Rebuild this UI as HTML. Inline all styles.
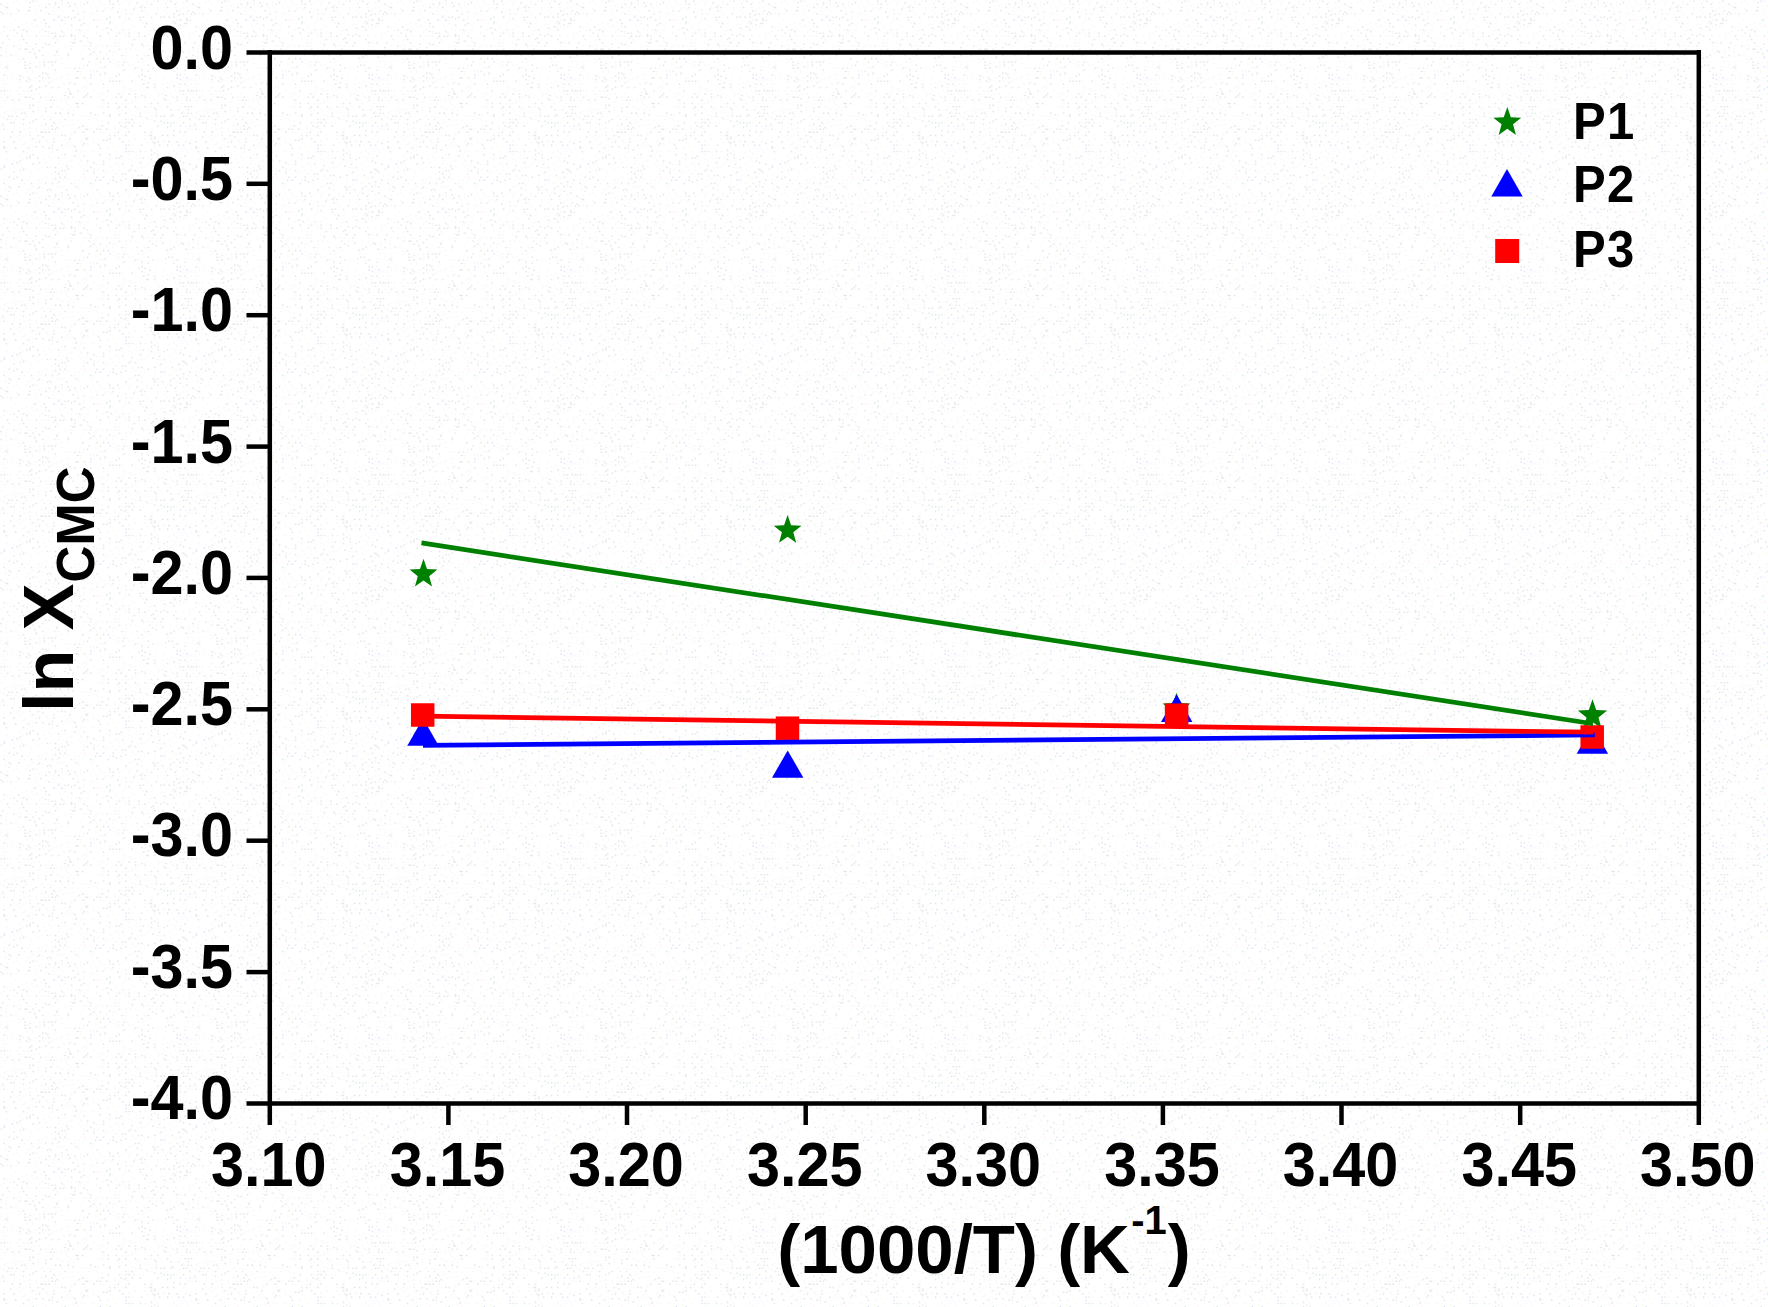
<!DOCTYPE html>
<html><head><meta charset="utf-8"><title>ln XCMC vs 1000/T</title>
<style>html,body{margin:0;padding:0;background:#fefefe;}body{width:1768px;height:1307px;overflow:hidden;}svg{display:block;}text{font-family:"Liberation Sans",sans-serif;font-weight:bold;fill:#000;}</style></head><body>
<svg width="1768" height="1307" viewBox="0 0 1768 1307">
<defs><pattern id="grain" width="192.0" height="192.0" patternUnits="userSpaceOnUse"><rect width="192.0" height="192.0" fill="#ffffff"/><path fill="#fef4fe" d="M6.8 2.0h1.5v1.5h-1.5zM13.2 2.0h1.5v1.5h-1.5zM16.4 0.4h1.5v1.5h-1.5zM35.6 0.4h1.5v1.5h-1.5zM58.0 2.0h1.5v1.5h-1.5zM80.4 2.0h1.5v1.5h-1.5zM85.2 0.4h1.5v1.5h-1.5zM182.8 2.0h1.5v1.5h-1.5zM18.0 3.6h1.5v1.5h-1.5zM53.2 5.2h1.5v1.5h-1.5zM66.0 3.6h1.5v1.5h-1.5zM118.8 3.6h1.5v1.5h-1.5zM128.4 3.6h1.5v1.5h-1.5zM50.0 6.8h1.5v1.5h-1.5zM53.2 6.8h1.5v1.5h-1.5zM75.6 6.8h1.5v1.5h-1.5zM104.4 8.4h1.5v1.5h-1.5zM106.0 6.8h1.5v1.5h-1.5zM110.8 8.4h1.5v1.5h-1.5zM125.2 8.4h1.5v1.5h-1.5zM35.6 10.0h1.5v1.5h-1.5zM51.6 10.0h1.5v1.5h-1.5zM62.8 10.0h1.5v1.5h-1.5zM120.4 11.6h1.5v1.5h-1.5zM123.6 10.0h1.5v1.5h-1.5zM125.2 10.0h1.5v1.5h-1.5zM26.0 13.2h1.5v1.5h-1.5zM35.6 13.2h1.5v1.5h-1.5zM120.4 14.8h1.5v1.5h-1.5zM131.6 13.2h1.5v1.5h-1.5zM144.4 13.2h1.5v1.5h-1.5zM179.6 13.2h1.5v1.5h-1.5zM38.8 16.4h1.5v1.5h-1.5zM62.8 16.4h1.5v1.5h-1.5zM82.0 18.0h1.5v1.5h-1.5zM3.6 21.2h1.5v1.5h-1.5zM14.8 19.6h1.5v1.5h-1.5zM54.8 19.6h1.5v1.5h-1.5zM80.4 19.6h1.5v1.5h-1.5zM96.4 19.6h1.5v1.5h-1.5zM99.6 19.6h1.5v1.5h-1.5zM125.2 19.6h1.5v1.5h-1.5zM141.2 21.2h1.5v1.5h-1.5zM176.4 19.6h1.5v1.5h-1.5zM26.0 22.8h1.5v1.5h-1.5zM30.8 22.8h1.5v1.5h-1.5zM35.6 24.4h1.5v1.5h-1.5zM64.4 22.8h1.5v1.5h-1.5zM122.0 22.8h1.5v1.5h-1.5zM142.8 22.8h1.5v1.5h-1.5zM171.6 22.8h1.5v1.5h-1.5zM32.4 26.0h1.5v1.5h-1.5zM43.6 26.0h1.5v1.5h-1.5zM114.0 26.0h1.5v1.5h-1.5zM131.6 27.6h1.5v1.5h-1.5zM168.4 26.0h1.5v1.5h-1.5zM173.2 26.0h1.5v1.5h-1.5zM3.6 30.8h1.5v1.5h-1.5zM70.8 29.2h1.5v1.5h-1.5zM162.0 30.8h1.5v1.5h-1.5zM0.4 32.4h1.5v1.5h-1.5zM115.6 32.4h1.5v1.5h-1.5zM176.4 34.0h1.5v1.5h-1.5zM13.2 35.6h1.5v1.5h-1.5zM29.2 35.6h1.5v1.5h-1.5zM40.4 35.6h1.5v1.5h-1.5zM48.4 35.6h1.5v1.5h-1.5zM125.2 35.6h1.5v1.5h-1.5zM174.8 35.6h1.5v1.5h-1.5zM182.8 35.6h1.5v1.5h-1.5zM58.0 40.4h1.5v1.5h-1.5zM99.6 38.8h1.5v1.5h-1.5zM157.2 38.8h1.5v1.5h-1.5zM19.6 43.6h1.5v1.5h-1.5zM69.2 42.0h1.5v1.5h-1.5zM115.6 42.0h1.5v1.5h-1.5zM123.6 42.0h1.5v1.5h-1.5zM174.8 42.0h1.5v1.5h-1.5zM26.0 45.2h1.5v1.5h-1.5zM64.4 46.8h1.5v1.5h-1.5zM67.6 45.2h1.5v1.5h-1.5zM70.8 45.2h1.5v1.5h-1.5zM94.8 46.8h1.5v1.5h-1.5zM96.4 45.2h1.5v1.5h-1.5zM101.2 45.2h1.5v1.5h-1.5zM149.2 45.2h1.5v1.5h-1.5zM152.4 45.2h1.5v1.5h-1.5zM176.4 45.2h1.5v1.5h-1.5zM18.0 48.4h1.5v1.5h-1.5zM115.6 50.0h1.5v1.5h-1.5zM155.6 48.4h1.5v1.5h-1.5zM112.4 51.6h1.5v1.5h-1.5zM125.2 51.6h1.5v1.5h-1.5zM147.6 51.6h1.5v1.5h-1.5zM162.0 51.6h1.5v1.5h-1.5zM179.6 51.6h1.5v1.5h-1.5zM187.6 53.2h1.5v1.5h-1.5zM5.2 56.4h1.5v1.5h-1.5zM96.4 54.8h1.5v1.5h-1.5zM106.0 54.8h1.5v1.5h-1.5zM112.4 54.8h1.5v1.5h-1.5zM166.8 56.4h1.5v1.5h-1.5zM189.2 56.4h1.5v1.5h-1.5zM19.6 59.6h1.5v1.5h-1.5zM61.2 58.0h1.5v1.5h-1.5zM122.0 58.0h1.5v1.5h-1.5zM147.6 58.0h1.5v1.5h-1.5zM181.2 58.0h1.5v1.5h-1.5zM46.8 61.2h1.5v1.5h-1.5zM117.2 61.2h1.5v1.5h-1.5zM118.8 61.2h1.5v1.5h-1.5zM126.8 61.2h1.5v1.5h-1.5zM142.8 61.2h1.5v1.5h-1.5zM178.0 61.2h1.5v1.5h-1.5zM187.6 61.2h1.5v1.5h-1.5zM32.4 64.4h1.5v1.5h-1.5zM83.6 64.4h1.5v1.5h-1.5zM118.8 64.4h1.5v1.5h-1.5zM128.4 64.4h1.5v1.5h-1.5zM131.6 64.4h1.5v1.5h-1.5zM26.0 67.6h1.5v1.5h-1.5zM32.4 67.6h1.5v1.5h-1.5zM38.8 67.6h1.5v1.5h-1.5zM66.0 67.6h1.5v1.5h-1.5zM82.0 67.6h1.5v1.5h-1.5zM90.0 69.2h1.5v1.5h-1.5zM157.2 67.6h1.5v1.5h-1.5zM26.0 70.8h1.5v1.5h-1.5zM67.6 72.4h1.5v1.5h-1.5zM90.0 70.8h1.5v1.5h-1.5zM122.0 70.8h1.5v1.5h-1.5zM67.6 74.0h1.5v1.5h-1.5zM93.2 74.0h1.5v1.5h-1.5zM112.4 74.0h1.5v1.5h-1.5zM35.6 77.2h1.5v1.5h-1.5zM45.2 77.2h1.5v1.5h-1.5zM56.4 77.2h1.5v1.5h-1.5zM109.2 77.2h1.5v1.5h-1.5zM163.6 77.2h1.5v1.5h-1.5zM189.2 78.8h1.5v1.5h-1.5zM29.2 80.4h1.5v1.5h-1.5zM42.0 80.4h1.5v1.5h-1.5zM51.6 80.4h1.5v1.5h-1.5zM86.8 82.0h1.5v1.5h-1.5zM122.0 80.4h1.5v1.5h-1.5zM144.4 80.4h1.5v1.5h-1.5zM173.2 82.0h1.5v1.5h-1.5zM182.8 80.4h1.5v1.5h-1.5zM186.0 80.4h1.5v1.5h-1.5zM3.6 83.6h1.5v1.5h-1.5zM112.4 83.6h1.5v1.5h-1.5zM118.8 83.6h1.5v1.5h-1.5zM123.6 85.2h1.5v1.5h-1.5zM134.8 83.6h1.5v1.5h-1.5zM144.4 83.6h1.5v1.5h-1.5zM19.6 86.8h1.5v1.5h-1.5zM102.8 86.8h1.5v1.5h-1.5zM122.0 86.8h1.5v1.5h-1.5zM125.2 86.8h1.5v1.5h-1.5zM128.4 88.4h1.5v1.5h-1.5zM178.0 86.8h1.5v1.5h-1.5zM6.8 90.0h1.5v1.5h-1.5zM16.4 90.0h1.5v1.5h-1.5zM22.8 90.0h1.5v1.5h-1.5zM27.6 90.0h1.5v1.5h-1.5zM74.0 91.6h1.5v1.5h-1.5zM83.6 90.0h1.5v1.5h-1.5zM155.6 90.0h1.5v1.5h-1.5zM174.8 90.0h1.5v1.5h-1.5zM0.4 93.2h1.5v1.5h-1.5zM18.0 93.2h1.5v1.5h-1.5zM22.8 93.2h1.5v1.5h-1.5zM99.6 93.2h1.5v1.5h-1.5zM117.2 93.2h1.5v1.5h-1.5zM144.4 94.8h1.5v1.5h-1.5zM158.8 93.2h1.5v1.5h-1.5zM162.0 93.2h1.5v1.5h-1.5zM170.0 93.2h1.5v1.5h-1.5zM179.6 93.2h1.5v1.5h-1.5zM45.2 96.4h1.5v1.5h-1.5zM64.4 98.0h1.5v1.5h-1.5zM106.0 96.4h1.5v1.5h-1.5zM38.8 101.2h1.5v1.5h-1.5zM56.4 99.6h1.5v1.5h-1.5zM61.2 99.6h1.5v1.5h-1.5zM131.6 101.2h1.5v1.5h-1.5zM134.8 99.6h1.5v1.5h-1.5zM3.6 102.8h1.5v1.5h-1.5zM19.6 102.8h1.5v1.5h-1.5zM102.8 102.8h1.5v1.5h-1.5zM122.0 102.8h1.5v1.5h-1.5zM125.2 102.8h1.5v1.5h-1.5zM181.2 102.8h1.5v1.5h-1.5zM13.2 107.6h1.5v1.5h-1.5zM51.6 106.0h1.5v1.5h-1.5zM58.0 106.0h1.5v1.5h-1.5zM98.0 106.0h1.5v1.5h-1.5zM101.2 106.0h1.5v1.5h-1.5zM147.6 106.0h1.5v1.5h-1.5zM179.6 106.0h1.5v1.5h-1.5zM10.0 110.8h1.5v1.5h-1.5zM16.4 109.2h1.5v1.5h-1.5zM72.4 109.2h1.5v1.5h-1.5zM122.0 109.2h1.5v1.5h-1.5zM136.4 109.2h1.5v1.5h-1.5zM3.6 112.4h1.5v1.5h-1.5zM14.8 112.4h1.5v1.5h-1.5zM155.6 112.4h1.5v1.5h-1.5zM157.2 114.0h1.5v1.5h-1.5zM173.2 114.0h1.5v1.5h-1.5zM182.8 112.4h1.5v1.5h-1.5zM3.6 117.2h1.5v1.5h-1.5zM42.0 115.6h1.5v1.5h-1.5zM61.2 115.6h1.5v1.5h-1.5zM93.2 117.2h1.5v1.5h-1.5zM150.8 115.6h1.5v1.5h-1.5zM173.2 115.6h1.5v1.5h-1.5zM179.6 117.2h1.5v1.5h-1.5zM10.0 118.8h1.5v1.5h-1.5zM88.4 118.8h1.5v1.5h-1.5zM96.4 118.8h1.5v1.5h-1.5zM101.2 120.4h1.5v1.5h-1.5zM128.4 118.8h1.5v1.5h-1.5zM150.8 118.8h1.5v1.5h-1.5zM166.8 118.8h1.5v1.5h-1.5zM32.4 122.0h1.5v1.5h-1.5zM142.8 122.0h1.5v1.5h-1.5zM146.0 122.0h1.5v1.5h-1.5zM0.4 125.2h1.5v1.5h-1.5zM40.4 125.2h1.5v1.5h-1.5zM45.2 125.2h1.5v1.5h-1.5zM66.0 125.2h1.5v1.5h-1.5zM70.8 125.2h1.5v1.5h-1.5zM98.0 125.2h1.5v1.5h-1.5zM115.6 126.8h1.5v1.5h-1.5zM184.4 125.2h1.5v1.5h-1.5zM186.0 125.2h1.5v1.5h-1.5zM6.8 128.4h1.5v1.5h-1.5zM19.6 130.0h1.5v1.5h-1.5zM27.6 128.4h1.5v1.5h-1.5zM43.6 128.4h1.5v1.5h-1.5zM90.0 128.4h1.5v1.5h-1.5zM126.8 128.4h1.5v1.5h-1.5zM187.6 128.4h1.5v1.5h-1.5zM54.8 131.6h1.5v1.5h-1.5zM70.8 131.6h1.5v1.5h-1.5zM83.6 131.6h1.5v1.5h-1.5zM13.2 134.8h1.5v1.5h-1.5zM38.8 134.8h1.5v1.5h-1.5zM56.4 134.8h1.5v1.5h-1.5zM83.6 134.8h1.5v1.5h-1.5zM144.4 134.8h1.5v1.5h-1.5zM182.8 134.8h1.5v1.5h-1.5zM80.4 139.6h1.5v1.5h-1.5zM134.8 138.0h1.5v1.5h-1.5zM157.2 138.0h1.5v1.5h-1.5zM80.4 141.2h1.5v1.5h-1.5zM138.0 142.8h1.5v1.5h-1.5zM21.2 144.4h1.5v1.5h-1.5zM48.4 146.0h1.5v1.5h-1.5zM67.6 144.4h1.5v1.5h-1.5zM72.4 144.4h1.5v1.5h-1.5zM131.6 144.4h1.5v1.5h-1.5zM107.6 147.6h1.5v1.5h-1.5zM179.6 147.6h1.5v1.5h-1.5zM184.4 147.6h1.5v1.5h-1.5zM190.8 147.6h1.5v1.5h-1.5zM26.0 152.4h1.5v1.5h-1.5zM72.4 150.8h1.5v1.5h-1.5zM157.2 150.8h1.5v1.5h-1.5zM173.2 150.8h1.5v1.5h-1.5zM45.2 154.0h1.5v1.5h-1.5zM77.2 154.0h1.5v1.5h-1.5zM176.4 154.0h1.5v1.5h-1.5zM5.2 158.8h1.5v1.5h-1.5zM43.6 158.8h1.5v1.5h-1.5zM48.4 157.2h1.5v1.5h-1.5zM64.4 157.2h1.5v1.5h-1.5zM80.4 158.8h1.5v1.5h-1.5zM109.2 158.8h1.5v1.5h-1.5zM136.4 157.2h1.5v1.5h-1.5zM147.6 157.2h1.5v1.5h-1.5zM179.6 157.2h1.5v1.5h-1.5zM13.2 160.4h1.5v1.5h-1.5zM45.2 162.0h1.5v1.5h-1.5zM67.6 160.4h1.5v1.5h-1.5zM78.8 162.0h1.5v1.5h-1.5zM122.0 160.4h1.5v1.5h-1.5zM154.0 160.4h1.5v1.5h-1.5zM170.0 162.0h1.5v1.5h-1.5zM173.2 160.4h1.5v1.5h-1.5zM16.4 165.2h1.5v1.5h-1.5zM62.8 163.6h1.5v1.5h-1.5zM168.4 163.6h1.5v1.5h-1.5zM13.2 166.8h1.5v1.5h-1.5zM61.2 166.8h1.5v1.5h-1.5zM66.0 166.8h1.5v1.5h-1.5zM83.6 168.4h1.5v1.5h-1.5zM98.0 168.4h1.5v1.5h-1.5zM141.2 166.8h1.5v1.5h-1.5zM144.4 166.8h1.5v1.5h-1.5zM22.8 170.0h1.5v1.5h-1.5zM83.6 170.0h1.5v1.5h-1.5zM109.2 171.6h1.5v1.5h-1.5zM118.8 170.0h1.5v1.5h-1.5zM82.0 173.2h1.5v1.5h-1.5zM93.2 173.2h1.5v1.5h-1.5zM104.4 173.2h1.5v1.5h-1.5zM182.8 173.2h1.5v1.5h-1.5zM45.2 176.4h1.5v1.5h-1.5zM74.0 176.4h1.5v1.5h-1.5zM80.4 176.4h1.5v1.5h-1.5zM83.6 176.4h1.5v1.5h-1.5zM186.0 178.0h1.5v1.5h-1.5zM27.6 179.6h1.5v1.5h-1.5zM45.2 181.2h1.5v1.5h-1.5zM98.0 179.6h1.5v1.5h-1.5zM109.2 179.6h1.5v1.5h-1.5zM173.2 179.6h1.5v1.5h-1.5zM40.4 182.8h1.5v1.5h-1.5zM74.0 182.8h1.5v1.5h-1.5zM77.2 182.8h1.5v1.5h-1.5zM163.6 182.8h1.5v1.5h-1.5zM182.8 184.4h1.5v1.5h-1.5zM187.6 182.8h1.5v1.5h-1.5zM48.4 187.6h1.5v1.5h-1.5zM56.4 186.0h1.5v1.5h-1.5zM77.2 187.6h1.5v1.5h-1.5zM93.2 187.6h1.5v1.5h-1.5zM160.4 187.6h1.5v1.5h-1.5zM107.6 190.8h1.5v1.5h-1.5zM141.2 189.2h1.5v1.5h-1.5zM176.4 189.2h1.5v1.5h-1.5zM186.0 189.2h1.5v1.5h-1.5z"/><path fill="#f4fcfc" d="M26.0 0.4h1.5v1.5h-1.5zM98.0 0.4h1.5v1.5h-1.5zM130.0 0.4h1.5v1.5h-1.5zM154.0 0.4h1.5v1.5h-1.5zM163.6 0.4h1.5v1.5h-1.5zM165.2 3.6h1.5v1.5h-1.5zM67.6 6.8h1.5v1.5h-1.5zM90.0 6.8h1.5v1.5h-1.5zM122.0 8.4h1.5v1.5h-1.5zM176.4 6.8h1.5v1.5h-1.5zM77.2 10.0h1.5v1.5h-1.5zM157.2 10.0h1.5v1.5h-1.5zM190.8 10.0h1.5v1.5h-1.5zM56.4 14.8h1.5v1.5h-1.5zM70.8 13.2h1.5v1.5h-1.5zM147.6 13.2h1.5v1.5h-1.5zM166.8 13.2h1.5v1.5h-1.5zM10.0 16.4h1.5v1.5h-1.5zM54.8 18.0h1.5v1.5h-1.5zM189.2 16.4h1.5v1.5h-1.5zM0.4 19.6h1.5v1.5h-1.5zM40.4 21.2h1.5v1.5h-1.5zM112.4 19.6h1.5v1.5h-1.5zM118.8 19.6h1.5v1.5h-1.5zM152.4 19.6h1.5v1.5h-1.5zM21.2 24.4h1.5v1.5h-1.5zM32.4 22.8h1.5v1.5h-1.5zM42.0 22.8h1.5v1.5h-1.5zM90.0 22.8h1.5v1.5h-1.5zM131.6 24.4h1.5v1.5h-1.5zM45.2 26.0h1.5v1.5h-1.5zM115.6 26.0h1.5v1.5h-1.5zM179.6 27.6h1.5v1.5h-1.5zM29.2 29.2h1.5v1.5h-1.5zM38.8 30.8h1.5v1.5h-1.5zM80.4 30.8h1.5v1.5h-1.5zM115.6 29.2h1.5v1.5h-1.5zM149.2 30.8h1.5v1.5h-1.5zM150.8 29.2h1.5v1.5h-1.5zM21.2 32.4h1.5v1.5h-1.5zM48.4 32.4h1.5v1.5h-1.5zM125.2 32.4h1.5v1.5h-1.5zM42.0 35.6h1.5v1.5h-1.5zM77.2 35.6h1.5v1.5h-1.5zM189.2 35.6h1.5v1.5h-1.5zM78.8 40.4h1.5v1.5h-1.5zM93.2 38.8h1.5v1.5h-1.5zM112.4 38.8h1.5v1.5h-1.5zM118.8 43.6h1.5v1.5h-1.5zM16.4 45.2h1.5v1.5h-1.5zM35.6 46.8h1.5v1.5h-1.5zM46.8 45.2h1.5v1.5h-1.5zM51.6 45.2h1.5v1.5h-1.5zM86.8 45.2h1.5v1.5h-1.5zM80.4 53.2h1.5v1.5h-1.5zM176.4 51.6h1.5v1.5h-1.5zM131.6 56.4h1.5v1.5h-1.5zM67.6 58.0h1.5v1.5h-1.5zM114.0 58.0h1.5v1.5h-1.5zM8.4 61.2h1.5v1.5h-1.5zM27.6 64.4h1.5v1.5h-1.5zM0.4 67.6h1.5v1.5h-1.5zM3.6 67.6h1.5v1.5h-1.5zM70.8 67.6h1.5v1.5h-1.5zM98.0 67.6h1.5v1.5h-1.5zM138.0 67.6h1.5v1.5h-1.5zM160.4 67.6h1.5v1.5h-1.5zM3.6 70.8h1.5v1.5h-1.5zM64.4 70.8h1.5v1.5h-1.5zM75.6 70.8h1.5v1.5h-1.5zM11.6 74.0h1.5v1.5h-1.5zM22.8 75.6h1.5v1.5h-1.5zM155.6 74.0h1.5v1.5h-1.5zM10.0 77.2h1.5v1.5h-1.5zM16.4 78.8h1.5v1.5h-1.5zM53.2 78.8h1.5v1.5h-1.5zM61.2 77.2h1.5v1.5h-1.5zM154.0 80.4h1.5v1.5h-1.5zM176.4 82.0h1.5v1.5h-1.5zM6.8 83.6h1.5v1.5h-1.5zM54.8 85.2h1.5v1.5h-1.5zM58.0 90.0h1.5v1.5h-1.5zM163.6 90.0h1.5v1.5h-1.5zM34.0 93.2h1.5v1.5h-1.5zM61.2 93.2h1.5v1.5h-1.5zM106.0 94.8h1.5v1.5h-1.5zM190.8 93.2h1.5v1.5h-1.5zM86.8 96.4h1.5v1.5h-1.5zM96.4 96.4h1.5v1.5h-1.5zM157.2 96.4h1.5v1.5h-1.5zM171.6 96.4h1.5v1.5h-1.5zM181.2 96.4h1.5v1.5h-1.5zM174.8 101.2h1.5v1.5h-1.5zM22.8 102.8h1.5v1.5h-1.5zM85.2 104.4h1.5v1.5h-1.5zM168.4 102.8h1.5v1.5h-1.5zM170.0 102.8h1.5v1.5h-1.5zM56.4 106.0h1.5v1.5h-1.5zM160.4 107.6h1.5v1.5h-1.5zM32.4 112.4h1.5v1.5h-1.5zM147.6 112.4h1.5v1.5h-1.5zM50.0 115.6h1.5v1.5h-1.5zM67.6 115.6h1.5v1.5h-1.5zM83.6 115.6h1.5v1.5h-1.5zM86.8 115.6h1.5v1.5h-1.5zM106.0 115.6h1.5v1.5h-1.5zM123.6 115.6h1.5v1.5h-1.5zM14.8 118.8h1.5v1.5h-1.5zM72.4 118.8h1.5v1.5h-1.5zM163.6 118.8h1.5v1.5h-1.5zM19.6 122.0h1.5v1.5h-1.5zM40.4 123.6h1.5v1.5h-1.5zM54.8 123.6h1.5v1.5h-1.5zM58.0 122.0h1.5v1.5h-1.5zM80.4 122.0h1.5v1.5h-1.5zM138.0 122.0h1.5v1.5h-1.5zM160.4 123.6h1.5v1.5h-1.5zM13.2 125.2h1.5v1.5h-1.5zM48.4 126.8h1.5v1.5h-1.5zM102.8 125.2h1.5v1.5h-1.5zM13.2 128.4h1.5v1.5h-1.5zM150.8 128.4h1.5v1.5h-1.5zM190.8 128.4h1.5v1.5h-1.5zM99.6 131.6h1.5v1.5h-1.5zM59.6 134.8h1.5v1.5h-1.5zM80.4 134.8h1.5v1.5h-1.5zM122.0 134.8h1.5v1.5h-1.5zM64.4 139.6h1.5v1.5h-1.5zM128.4 139.6h1.5v1.5h-1.5zM163.6 139.6h1.5v1.5h-1.5zM67.6 141.2h1.5v1.5h-1.5zM186.0 141.2h1.5v1.5h-1.5zM22.8 144.4h1.5v1.5h-1.5zM32.4 146.0h1.5v1.5h-1.5zM123.6 144.4h1.5v1.5h-1.5zM171.6 144.4h1.5v1.5h-1.5zM32.4 149.2h1.5v1.5h-1.5zM138.0 147.6h1.5v1.5h-1.5zM176.4 147.6h1.5v1.5h-1.5zM186.0 149.2h1.5v1.5h-1.5zM50.0 152.4h1.5v1.5h-1.5zM51.6 150.8h1.5v1.5h-1.5zM80.4 150.8h1.5v1.5h-1.5zM93.2 150.8h1.5v1.5h-1.5zM115.6 150.8h1.5v1.5h-1.5zM122.0 150.8h1.5v1.5h-1.5zM35.6 155.6h1.5v1.5h-1.5zM136.4 154.0h1.5v1.5h-1.5zM179.6 154.0h1.5v1.5h-1.5zM22.8 158.8h1.5v1.5h-1.5zM51.6 157.2h1.5v1.5h-1.5zM61.2 157.2h1.5v1.5h-1.5zM107.6 157.2h1.5v1.5h-1.5zM133.2 157.2h1.5v1.5h-1.5zM115.6 162.0h1.5v1.5h-1.5zM19.6 163.6h1.5v1.5h-1.5zM96.4 163.6h1.5v1.5h-1.5zM130.0 163.6h1.5v1.5h-1.5zM147.6 163.6h1.5v1.5h-1.5zM42.0 166.8h1.5v1.5h-1.5zM50.0 166.8h1.5v1.5h-1.5zM123.6 166.8h1.5v1.5h-1.5zM138.0 166.8h1.5v1.5h-1.5zM160.4 166.8h1.5v1.5h-1.5zM16.4 170.0h1.5v1.5h-1.5zM96.4 170.0h1.5v1.5h-1.5zM19.6 173.2h1.5v1.5h-1.5zM190.8 174.8h1.5v1.5h-1.5zM67.6 178.0h1.5v1.5h-1.5zM37.2 179.6h1.5v1.5h-1.5zM62.8 179.6h1.5v1.5h-1.5zM86.8 179.6h1.5v1.5h-1.5zM139.6 179.6h1.5v1.5h-1.5zM56.4 182.8h1.5v1.5h-1.5zM93.2 182.8h1.5v1.5h-1.5zM120.4 182.8h1.5v1.5h-1.5zM154.0 184.4h1.5v1.5h-1.5zM58.0 186.0h1.5v1.5h-1.5zM82.0 186.0h1.5v1.5h-1.5zM90.0 186.0h1.5v1.5h-1.5zM182.8 186.0h1.5v1.5h-1.5zM29.2 189.2h1.5v1.5h-1.5z"/><path fill="#e4ebe4" d="M29.2 2.0h1.5v1.5h-1.5zM157.2 0.4h1.5v1.5h-1.5zM0.4 3.6h1.5v1.5h-1.5zM54.8 3.6h1.5v1.5h-1.5zM109.2 3.6h1.5v1.5h-1.5zM150.8 3.6h1.5v1.5h-1.5zM0.4 11.6h1.5v1.5h-1.5zM18.0 10.0h1.5v1.5h-1.5zM27.6 10.0h1.5v1.5h-1.5zM29.2 10.0h1.5v1.5h-1.5zM77.2 13.2h1.5v1.5h-1.5zM186.0 18.0h1.5v1.5h-1.5zM139.6 19.6h1.5v1.5h-1.5zM186.0 22.8h1.5v1.5h-1.5zM3.6 26.0h1.5v1.5h-1.5zM48.4 26.0h1.5v1.5h-1.5zM107.6 32.4h1.5v1.5h-1.5zM118.8 32.4h1.5v1.5h-1.5zM6.8 35.6h1.5v1.5h-1.5zM59.6 35.6h1.5v1.5h-1.5zM62.8 35.6h1.5v1.5h-1.5zM160.4 35.6h1.5v1.5h-1.5zM166.8 35.6h1.5v1.5h-1.5zM150.8 38.8h1.5v1.5h-1.5zM2.0 42.0h1.5v1.5h-1.5zM74.0 42.0h1.5v1.5h-1.5zM162.0 42.0h1.5v1.5h-1.5zM13.2 45.2h1.5v1.5h-1.5zM160.4 45.2h1.5v1.5h-1.5zM24.4 48.4h1.5v1.5h-1.5zM88.4 48.4h1.5v1.5h-1.5zM109.2 50.0h1.5v1.5h-1.5zM181.2 50.0h1.5v1.5h-1.5zM122.0 54.8h1.5v1.5h-1.5zM186.0 56.4h1.5v1.5h-1.5zM166.8 58.0h1.5v1.5h-1.5zM99.6 61.2h1.5v1.5h-1.5zM5.2 66.0h1.5v1.5h-1.5zM51.6 64.4h1.5v1.5h-1.5zM122.0 64.4h1.5v1.5h-1.5zM165.2 66.0h1.5v1.5h-1.5zM168.4 64.4h1.5v1.5h-1.5zM171.6 64.4h1.5v1.5h-1.5zM24.4 67.6h1.5v1.5h-1.5zM141.2 69.2h1.5v1.5h-1.5zM45.2 72.4h1.5v1.5h-1.5zM3.6 74.0h1.5v1.5h-1.5zM46.8 74.0h1.5v1.5h-1.5zM115.6 75.6h1.5v1.5h-1.5zM144.4 75.6h1.5v1.5h-1.5zM179.6 74.0h1.5v1.5h-1.5zM77.2 77.2h1.5v1.5h-1.5zM83.6 77.2h1.5v1.5h-1.5zM141.2 78.8h1.5v1.5h-1.5zM26.0 80.4h1.5v1.5h-1.5zM69.2 82.0h1.5v1.5h-1.5zM115.6 80.4h1.5v1.5h-1.5zM142.8 83.6h1.5v1.5h-1.5zM154.0 83.6h1.5v1.5h-1.5zM147.6 86.8h1.5v1.5h-1.5zM0.4 90.0h1.5v1.5h-1.5zM107.6 90.0h1.5v1.5h-1.5zM70.8 93.2h1.5v1.5h-1.5zM86.8 93.2h1.5v1.5h-1.5zM134.8 93.2h1.5v1.5h-1.5zM141.2 94.8h1.5v1.5h-1.5zM51.6 96.4h1.5v1.5h-1.5zM115.6 96.4h1.5v1.5h-1.5zM11.6 99.6h1.5v1.5h-1.5zM18.0 99.6h1.5v1.5h-1.5zM53.2 99.6h1.5v1.5h-1.5zM102.8 99.6h1.5v1.5h-1.5zM150.8 102.8h1.5v1.5h-1.5zM125.2 106.0h1.5v1.5h-1.5zM144.4 106.0h1.5v1.5h-1.5zM178.0 109.2h1.5v1.5h-1.5zM24.4 112.4h1.5v1.5h-1.5zM72.4 114.0h1.5v1.5h-1.5zM139.6 112.4h1.5v1.5h-1.5zM171.6 114.0h1.5v1.5h-1.5zM181.2 112.4h1.5v1.5h-1.5zM146.0 117.2h1.5v1.5h-1.5zM155.6 115.6h1.5v1.5h-1.5zM160.4 120.4h1.5v1.5h-1.5zM189.2 118.8h1.5v1.5h-1.5zM29.2 122.0h1.5v1.5h-1.5zM45.2 123.6h1.5v1.5h-1.5zM78.8 126.8h1.5v1.5h-1.5zM125.2 125.2h1.5v1.5h-1.5zM54.8 128.4h1.5v1.5h-1.5zM173.2 130.0h1.5v1.5h-1.5zM42.0 131.6h1.5v1.5h-1.5zM74.0 131.6h1.5v1.5h-1.5zM150.8 131.6h1.5v1.5h-1.5zM179.6 131.6h1.5v1.5h-1.5zM86.8 138.0h1.5v1.5h-1.5zM118.8 138.0h1.5v1.5h-1.5zM157.2 141.2h1.5v1.5h-1.5zM168.4 141.2h1.5v1.5h-1.5zM128.4 144.4h1.5v1.5h-1.5zM141.2 144.4h1.5v1.5h-1.5zM27.6 147.6h1.5v1.5h-1.5zM48.4 147.6h1.5v1.5h-1.5zM75.6 149.2h1.5v1.5h-1.5zM99.6 147.6h1.5v1.5h-1.5zM83.6 155.6h1.5v1.5h-1.5zM157.2 154.0h1.5v1.5h-1.5zM58.0 157.2h1.5v1.5h-1.5zM38.8 162.0h1.5v1.5h-1.5zM139.6 162.0h1.5v1.5h-1.5zM122.0 163.6h1.5v1.5h-1.5zM54.8 171.6h1.5v1.5h-1.5zM61.2 170.0h1.5v1.5h-1.5zM134.8 170.0h1.5v1.5h-1.5zM186.0 171.6h1.5v1.5h-1.5zM171.6 174.8h1.5v1.5h-1.5zM59.6 176.4h1.5v1.5h-1.5zM64.4 176.4h1.5v1.5h-1.5zM112.4 176.4h1.5v1.5h-1.5zM125.2 178.0h1.5v1.5h-1.5zM179.6 176.4h1.5v1.5h-1.5zM112.4 179.6h1.5v1.5h-1.5zM136.4 187.6h1.5v1.5h-1.5zM152.4 186.0h1.5v1.5h-1.5zM170.0 187.6h1.5v1.5h-1.5zM173.2 186.0h1.5v1.5h-1.5zM179.6 186.0h1.5v1.5h-1.5z"/><path fill="#dee5f2" d="M32.4 0.4h1.5v1.5h-1.5zM67.6 2.0h1.5v1.5h-1.5zM109.2 0.4h1.5v1.5h-1.5zM117.2 0.4h1.5v1.5h-1.5zM141.2 5.2h1.5v1.5h-1.5zM174.8 3.6h1.5v1.5h-1.5zM29.2 6.8h1.5v1.5h-1.5zM58.0 6.8h1.5v1.5h-1.5zM133.2 8.4h1.5v1.5h-1.5zM40.4 10.0h1.5v1.5h-1.5zM176.4 10.0h1.5v1.5h-1.5zM48.4 13.2h1.5v1.5h-1.5zM190.8 13.2h1.5v1.5h-1.5zM67.6 16.4h1.5v1.5h-1.5zM74.0 16.4h1.5v1.5h-1.5zM106.0 18.0h1.5v1.5h-1.5zM118.8 16.4h1.5v1.5h-1.5zM128.4 18.0h1.5v1.5h-1.5zM142.8 16.4h1.5v1.5h-1.5zM163.6 16.4h1.5v1.5h-1.5zM34.0 19.6h1.5v1.5h-1.5zM43.6 19.6h1.5v1.5h-1.5zM53.2 19.6h1.5v1.5h-1.5zM61.2 19.6h1.5v1.5h-1.5zM109.2 21.2h1.5v1.5h-1.5zM179.6 19.6h1.5v1.5h-1.5zM186.0 19.6h1.5v1.5h-1.5zM45.2 22.8h1.5v1.5h-1.5zM80.4 24.4h1.5v1.5h-1.5zM146.0 22.8h1.5v1.5h-1.5zM18.0 26.0h1.5v1.5h-1.5zM154.0 29.2h1.5v1.5h-1.5zM138.0 32.4h1.5v1.5h-1.5zM21.2 35.6h1.5v1.5h-1.5zM54.8 35.6h1.5v1.5h-1.5zM70.8 35.6h1.5v1.5h-1.5zM22.8 38.8h1.5v1.5h-1.5zM133.2 38.8h1.5v1.5h-1.5zM45.2 43.6h1.5v1.5h-1.5zM48.4 43.6h1.5v1.5h-1.5zM154.0 42.0h1.5v1.5h-1.5zM176.4 42.0h1.5v1.5h-1.5zM0.4 46.8h1.5v1.5h-1.5zM38.8 50.0h1.5v1.5h-1.5zM29.2 51.6h1.5v1.5h-1.5zM56.4 51.6h1.5v1.5h-1.5zM93.2 51.6h1.5v1.5h-1.5zM182.8 51.6h1.5v1.5h-1.5zM0.4 54.8h1.5v1.5h-1.5zM170.0 56.4h1.5v1.5h-1.5zM82.0 58.0h1.5v1.5h-1.5zM24.4 61.2h1.5v1.5h-1.5zM51.6 61.2h1.5v1.5h-1.5zM109.2 61.2h1.5v1.5h-1.5zM123.6 61.2h1.5v1.5h-1.5zM24.4 64.4h1.5v1.5h-1.5zM35.6 66.0h1.5v1.5h-1.5zM43.6 64.4h1.5v1.5h-1.5zM74.0 67.6h1.5v1.5h-1.5zM42.0 72.4h1.5v1.5h-1.5zM77.2 70.8h1.5v1.5h-1.5zM90.0 74.0h1.5v1.5h-1.5zM118.8 74.0h1.5v1.5h-1.5zM141.2 74.0h1.5v1.5h-1.5zM48.4 77.2h1.5v1.5h-1.5zM75.6 77.2h1.5v1.5h-1.5zM30.8 85.2h1.5v1.5h-1.5zM102.8 83.6h1.5v1.5h-1.5zM173.2 85.2h1.5v1.5h-1.5zM38.8 86.8h1.5v1.5h-1.5zM3.6 90.0h1.5v1.5h-1.5zM187.6 90.0h1.5v1.5h-1.5zM69.2 93.2h1.5v1.5h-1.5zM128.4 93.2h1.5v1.5h-1.5zM165.2 94.8h1.5v1.5h-1.5zM26.0 96.4h1.5v1.5h-1.5zM40.4 96.4h1.5v1.5h-1.5zM83.6 96.4h1.5v1.5h-1.5zM120.4 96.4h1.5v1.5h-1.5zM75.6 102.8h1.5v1.5h-1.5zM77.2 102.8h1.5v1.5h-1.5zM82.0 102.8h1.5v1.5h-1.5zM77.2 106.0h1.5v1.5h-1.5zM118.8 106.0h1.5v1.5h-1.5zM134.8 106.0h1.5v1.5h-1.5zM166.8 106.0h1.5v1.5h-1.5zM155.6 109.2h1.5v1.5h-1.5zM170.0 109.2h1.5v1.5h-1.5zM54.8 112.4h1.5v1.5h-1.5zM59.6 112.4h1.5v1.5h-1.5zM67.6 112.4h1.5v1.5h-1.5zM94.8 114.0h1.5v1.5h-1.5zM109.2 114.0h1.5v1.5h-1.5zM16.4 115.6h1.5v1.5h-1.5zM160.4 115.6h1.5v1.5h-1.5zM163.6 115.6h1.5v1.5h-1.5zM32.4 120.4h1.5v1.5h-1.5zM131.6 118.8h1.5v1.5h-1.5zM10.0 122.0h1.5v1.5h-1.5zM53.2 122.0h1.5v1.5h-1.5zM189.2 125.2h1.5v1.5h-1.5zM19.6 131.6h1.5v1.5h-1.5zM45.2 131.6h1.5v1.5h-1.5zM48.4 131.6h1.5v1.5h-1.5zM184.4 131.6h1.5v1.5h-1.5zM125.2 134.8h1.5v1.5h-1.5zM149.2 134.8h1.5v1.5h-1.5zM162.0 134.8h1.5v1.5h-1.5zM69.2 138.0h1.5v1.5h-1.5zM152.4 141.2h1.5v1.5h-1.5zM154.0 142.8h1.5v1.5h-1.5zM176.4 141.2h1.5v1.5h-1.5zM74.0 146.0h1.5v1.5h-1.5zM125.2 144.4h1.5v1.5h-1.5zM158.8 144.4h1.5v1.5h-1.5zM166.8 144.4h1.5v1.5h-1.5zM14.8 147.6h1.5v1.5h-1.5zM125.2 150.8h1.5v1.5h-1.5zM99.6 154.0h1.5v1.5h-1.5zM184.4 155.6h1.5v1.5h-1.5zM26.0 157.2h1.5v1.5h-1.5zM142.8 157.2h1.5v1.5h-1.5zM11.6 163.6h1.5v1.5h-1.5zM102.8 163.6h1.5v1.5h-1.5zM46.8 166.8h1.5v1.5h-1.5zM54.8 166.8h1.5v1.5h-1.5zM90.0 166.8h1.5v1.5h-1.5zM128.4 170.0h1.5v1.5h-1.5zM178.0 171.6h1.5v1.5h-1.5zM184.4 170.0h1.5v1.5h-1.5zM58.0 173.2h1.5v1.5h-1.5zM122.0 173.2h1.5v1.5h-1.5zM138.0 174.8h1.5v1.5h-1.5zM94.8 179.6h1.5v1.5h-1.5zM99.6 179.6h1.5v1.5h-1.5zM90.0 182.8h1.5v1.5h-1.5zM107.6 182.8h1.5v1.5h-1.5zM138.0 182.8h1.5v1.5h-1.5zM18.0 186.0h1.5v1.5h-1.5zM46.8 189.2h1.5v1.5h-1.5zM50.0 189.2h1.5v1.5h-1.5zM66.0 189.2h1.5v1.5h-1.5zM125.2 189.2h1.5v1.5h-1.5zM179.6 190.8h1.5v1.5h-1.5z"/><path fill="#fef5fd" d="M48.4 0.4h1.5v1.5h-1.5zM99.6 0.4h1.5v1.5h-1.5zM122.0 2.0h1.5v1.5h-1.5zM3.6 5.2h1.5v1.5h-1.5zM138.0 3.6h1.5v1.5h-1.5zM66.0 11.6h1.5v1.5h-1.5zM163.6 10.0h1.5v1.5h-1.5zM13.2 13.2h1.5v1.5h-1.5zM59.6 14.8h1.5v1.5h-1.5zM107.6 14.8h1.5v1.5h-1.5zM186.0 13.2h1.5v1.5h-1.5zM102.8 16.4h1.5v1.5h-1.5zM35.6 19.6h1.5v1.5h-1.5zM64.4 19.6h1.5v1.5h-1.5zM86.8 24.4h1.5v1.5h-1.5zM150.8 22.8h1.5v1.5h-1.5zM160.4 24.4h1.5v1.5h-1.5zM182.8 26.0h1.5v1.5h-1.5zM19.6 29.2h1.5v1.5h-1.5zM42.0 29.2h1.5v1.5h-1.5zM48.4 30.8h1.5v1.5h-1.5zM102.8 29.2h1.5v1.5h-1.5zM118.8 30.8h1.5v1.5h-1.5zM128.4 29.2h1.5v1.5h-1.5zM64.4 34.0h1.5v1.5h-1.5zM96.4 32.4h1.5v1.5h-1.5zM160.4 34.0h1.5v1.5h-1.5zM189.2 32.4h1.5v1.5h-1.5zM45.2 35.6h1.5v1.5h-1.5zM64.4 35.6h1.5v1.5h-1.5zM18.0 40.4h1.5v1.5h-1.5zM38.8 38.8h1.5v1.5h-1.5zM70.8 40.4h1.5v1.5h-1.5zM86.8 40.4h1.5v1.5h-1.5zM118.8 38.8h1.5v1.5h-1.5zM22.8 42.0h1.5v1.5h-1.5zM88.4 42.0h1.5v1.5h-1.5zM114.0 42.0h1.5v1.5h-1.5zM152.4 42.0h1.5v1.5h-1.5zM114.0 45.2h1.5v1.5h-1.5zM146.0 45.2h1.5v1.5h-1.5zM176.4 48.4h1.5v1.5h-1.5zM16.4 54.8h1.5v1.5h-1.5zM88.4 54.8h1.5v1.5h-1.5zM102.8 56.4h1.5v1.5h-1.5zM120.4 54.8h1.5v1.5h-1.5zM54.8 59.6h1.5v1.5h-1.5zM125.2 58.0h1.5v1.5h-1.5zM0.4 61.2h1.5v1.5h-1.5zM114.0 62.8h1.5v1.5h-1.5zM157.2 62.8h1.5v1.5h-1.5zM173.2 61.2h1.5v1.5h-1.5zM0.4 64.4h1.5v1.5h-1.5zM101.2 66.0h1.5v1.5h-1.5zM16.4 69.2h1.5v1.5h-1.5zM102.8 67.6h1.5v1.5h-1.5zM173.2 67.6h1.5v1.5h-1.5zM11.6 72.4h1.5v1.5h-1.5zM32.4 70.8h1.5v1.5h-1.5zM117.2 72.4h1.5v1.5h-1.5zM6.8 74.0h1.5v1.5h-1.5zM27.6 75.6h1.5v1.5h-1.5zM48.4 74.0h1.5v1.5h-1.5zM61.2 75.6h1.5v1.5h-1.5zM104.4 74.0h1.5v1.5h-1.5zM184.4 74.0h1.5v1.5h-1.5zM186.0 75.6h1.5v1.5h-1.5zM22.8 77.2h1.5v1.5h-1.5zM67.6 78.8h1.5v1.5h-1.5zM155.6 77.2h1.5v1.5h-1.5zM182.8 77.2h1.5v1.5h-1.5zM171.6 80.4h1.5v1.5h-1.5zM94.8 83.6h1.5v1.5h-1.5zM139.6 85.2h1.5v1.5h-1.5zM186.0 85.2h1.5v1.5h-1.5zM2.0 86.8h1.5v1.5h-1.5zM131.6 90.0h1.5v1.5h-1.5zM134.8 90.0h1.5v1.5h-1.5zM10.0 94.8h1.5v1.5h-1.5zM30.8 94.8h1.5v1.5h-1.5zM102.8 93.2h1.5v1.5h-1.5zM13.2 98.0h1.5v1.5h-1.5zM19.6 96.4h1.5v1.5h-1.5zM99.6 96.4h1.5v1.5h-1.5zM138.0 96.4h1.5v1.5h-1.5zM2.0 99.6h1.5v1.5h-1.5zM13.2 101.2h1.5v1.5h-1.5zM46.8 99.6h1.5v1.5h-1.5zM144.4 99.6h1.5v1.5h-1.5zM168.4 99.6h1.5v1.5h-1.5zM70.8 106.0h1.5v1.5h-1.5zM158.8 106.0h1.5v1.5h-1.5zM22.8 110.8h1.5v1.5h-1.5zM37.2 109.2h1.5v1.5h-1.5zM61.2 109.2h1.5v1.5h-1.5zM118.8 110.8h1.5v1.5h-1.5zM182.8 110.8h1.5v1.5h-1.5zM131.6 114.0h1.5v1.5h-1.5zM90.0 115.6h1.5v1.5h-1.5zM134.8 115.6h1.5v1.5h-1.5zM19.6 118.8h1.5v1.5h-1.5zM67.6 118.8h1.5v1.5h-1.5zM61.2 122.0h1.5v1.5h-1.5zM42.0 125.2h1.5v1.5h-1.5zM90.0 125.2h1.5v1.5h-1.5zM0.4 128.4h1.5v1.5h-1.5zM48.4 128.4h1.5v1.5h-1.5zM58.0 128.4h1.5v1.5h-1.5zM74.0 128.4h1.5v1.5h-1.5zM77.2 128.4h1.5v1.5h-1.5zM35.6 131.6h1.5v1.5h-1.5zM69.2 133.2h1.5v1.5h-1.5zM102.8 131.6h1.5v1.5h-1.5zM45.2 134.8h1.5v1.5h-1.5zM35.6 138.0h1.5v1.5h-1.5zM35.6 141.2h1.5v1.5h-1.5zM46.8 141.2h1.5v1.5h-1.5zM66.0 142.8h1.5v1.5h-1.5zM86.8 142.8h1.5v1.5h-1.5zM29.2 144.4h1.5v1.5h-1.5zM154.0 144.4h1.5v1.5h-1.5zM16.4 147.6h1.5v1.5h-1.5zM58.0 147.6h1.5v1.5h-1.5zM69.2 147.6h1.5v1.5h-1.5zM6.8 150.8h1.5v1.5h-1.5zM144.4 150.8h1.5v1.5h-1.5zM150.8 150.8h1.5v1.5h-1.5zM168.4 152.4h1.5v1.5h-1.5zM181.2 150.8h1.5v1.5h-1.5zM48.4 155.6h1.5v1.5h-1.5zM171.6 155.6h1.5v1.5h-1.5zM122.0 158.8h1.5v1.5h-1.5zM128.4 158.8h1.5v1.5h-1.5zM58.0 160.4h1.5v1.5h-1.5zM80.4 160.4h1.5v1.5h-1.5zM157.2 160.4h1.5v1.5h-1.5zM176.4 160.4h1.5v1.5h-1.5zM37.2 163.6h1.5v1.5h-1.5zM58.0 163.6h1.5v1.5h-1.5zM58.0 168.4h1.5v1.5h-1.5zM170.0 168.4h1.5v1.5h-1.5zM181.2 168.4h1.5v1.5h-1.5zM26.0 170.0h1.5v1.5h-1.5zM30.8 171.6h1.5v1.5h-1.5zM58.0 171.6h1.5v1.5h-1.5zM179.6 170.0h1.5v1.5h-1.5zM51.6 173.2h1.5v1.5h-1.5zM99.6 173.2h1.5v1.5h-1.5zM115.6 173.2h1.5v1.5h-1.5zM165.2 174.8h1.5v1.5h-1.5zM29.2 176.4h1.5v1.5h-1.5zM122.0 176.4h1.5v1.5h-1.5zM134.8 178.0h1.5v1.5h-1.5zM162.0 178.0h1.5v1.5h-1.5zM176.4 178.0h1.5v1.5h-1.5zM38.8 179.6h1.5v1.5h-1.5zM51.6 179.6h1.5v1.5h-1.5zM78.8 179.6h1.5v1.5h-1.5zM144.4 179.6h1.5v1.5h-1.5zM37.2 182.8h1.5v1.5h-1.5zM141.2 184.4h1.5v1.5h-1.5zM168.4 182.8h1.5v1.5h-1.5zM32.4 186.0h1.5v1.5h-1.5zM61.2 186.0h1.5v1.5h-1.5zM102.8 186.0h1.5v1.5h-1.5zM5.2 189.2h1.5v1.5h-1.5zM27.6 189.2h1.5v1.5h-1.5z"/><path fill="#e6ede6" d="M54.8 2.0h1.5v1.5h-1.5zM61.2 0.4h1.5v1.5h-1.5zM83.6 3.6h1.5v1.5h-1.5zM83.6 11.6h1.5v1.5h-1.5zM96.4 10.0h1.5v1.5h-1.5zM187.6 10.0h1.5v1.5h-1.5zM10.0 13.2h1.5v1.5h-1.5zM125.2 13.2h1.5v1.5h-1.5zM155.6 13.2h1.5v1.5h-1.5zM64.4 16.4h1.5v1.5h-1.5zM150.8 16.4h1.5v1.5h-1.5zM173.2 16.4h1.5v1.5h-1.5zM78.8 19.6h1.5v1.5h-1.5zM189.2 19.6h1.5v1.5h-1.5zM109.2 22.8h1.5v1.5h-1.5zM179.6 24.4h1.5v1.5h-1.5zM13.2 29.2h1.5v1.5h-1.5zM61.2 30.8h1.5v1.5h-1.5zM122.0 29.2h1.5v1.5h-1.5zM54.8 32.4h1.5v1.5h-1.5zM163.6 34.0h1.5v1.5h-1.5zM53.2 37.2h1.5v1.5h-1.5zM74.0 35.6h1.5v1.5h-1.5zM86.8 37.2h1.5v1.5h-1.5zM8.4 38.8h1.5v1.5h-1.5zM74.0 38.8h1.5v1.5h-1.5zM26.0 42.0h1.5v1.5h-1.5zM131.6 43.6h1.5v1.5h-1.5zM42.0 46.8h1.5v1.5h-1.5zM90.0 45.2h1.5v1.5h-1.5zM106.0 45.2h1.5v1.5h-1.5zM142.8 45.2h1.5v1.5h-1.5zM19.6 48.4h1.5v1.5h-1.5zM32.4 48.4h1.5v1.5h-1.5zM56.4 50.0h1.5v1.5h-1.5zM118.8 48.4h1.5v1.5h-1.5zM149.2 48.4h1.5v1.5h-1.5zM162.0 50.0h1.5v1.5h-1.5zM34.0 53.2h1.5v1.5h-1.5zM67.6 53.2h1.5v1.5h-1.5zM152.4 51.6h1.5v1.5h-1.5zM155.6 53.2h1.5v1.5h-1.5zM10.0 54.8h1.5v1.5h-1.5zM54.8 54.8h1.5v1.5h-1.5zM136.4 54.8h1.5v1.5h-1.5zM29.2 62.8h1.5v1.5h-1.5zM48.4 61.2h1.5v1.5h-1.5zM54.8 61.2h1.5v1.5h-1.5zM88.4 61.2h1.5v1.5h-1.5zM104.4 66.0h1.5v1.5h-1.5zM6.8 67.6h1.5v1.5h-1.5zM78.8 67.6h1.5v1.5h-1.5zM152.4 67.6h1.5v1.5h-1.5zM184.4 69.2h1.5v1.5h-1.5zM96.4 70.8h1.5v1.5h-1.5zM147.6 70.8h1.5v1.5h-1.5zM173.2 70.8h1.5v1.5h-1.5zM38.8 75.6h1.5v1.5h-1.5zM19.6 78.8h1.5v1.5h-1.5zM27.6 77.2h1.5v1.5h-1.5zM29.2 78.8h1.5v1.5h-1.5zM42.0 77.2h1.5v1.5h-1.5zM38.8 80.4h1.5v1.5h-1.5zM48.4 82.0h1.5v1.5h-1.5zM118.8 80.4h1.5v1.5h-1.5zM179.6 83.6h1.5v1.5h-1.5zM51.6 86.8h1.5v1.5h-1.5zM58.0 86.8h1.5v1.5h-1.5zM154.0 86.8h1.5v1.5h-1.5zM166.8 86.8h1.5v1.5h-1.5zM69.2 91.6h1.5v1.5h-1.5zM118.8 93.2h1.5v1.5h-1.5zM182.8 93.2h1.5v1.5h-1.5zM6.8 96.4h1.5v1.5h-1.5zM24.4 96.4h1.5v1.5h-1.5zM72.4 96.4h1.5v1.5h-1.5zM144.4 96.4h1.5v1.5h-1.5zM163.6 98.0h1.5v1.5h-1.5zM176.4 99.6h1.5v1.5h-1.5zM189.2 99.6h1.5v1.5h-1.5zM107.6 102.8h1.5v1.5h-1.5zM115.6 102.8h1.5v1.5h-1.5zM29.2 107.6h1.5v1.5h-1.5zM102.8 112.4h1.5v1.5h-1.5zM190.8 112.4h1.5v1.5h-1.5zM170.0 115.6h1.5v1.5h-1.5zM43.6 118.8h1.5v1.5h-1.5zM50.0 118.8h1.5v1.5h-1.5zM154.0 120.4h1.5v1.5h-1.5zM2.0 123.6h1.5v1.5h-1.5zM125.2 122.0h1.5v1.5h-1.5zM133.2 122.0h1.5v1.5h-1.5zM157.2 125.2h1.5v1.5h-1.5zM170.0 125.2h1.5v1.5h-1.5zM86.8 128.4h1.5v1.5h-1.5zM106.0 128.4h1.5v1.5h-1.5zM82.0 131.6h1.5v1.5h-1.5zM29.2 134.8h1.5v1.5h-1.5zM37.2 134.8h1.5v1.5h-1.5zM42.0 136.4h1.5v1.5h-1.5zM64.4 134.8h1.5v1.5h-1.5zM109.2 134.8h1.5v1.5h-1.5zM32.4 138.0h1.5v1.5h-1.5zM53.2 138.0h1.5v1.5h-1.5zM154.0 138.0h1.5v1.5h-1.5zM42.0 146.0h1.5v1.5h-1.5zM61.2 144.4h1.5v1.5h-1.5zM82.0 144.4h1.5v1.5h-1.5zM5.2 150.8h1.5v1.5h-1.5zM75.6 150.8h1.5v1.5h-1.5zM139.6 150.8h1.5v1.5h-1.5zM154.0 152.4h1.5v1.5h-1.5zM163.6 158.8h1.5v1.5h-1.5zM131.6 165.2h1.5v1.5h-1.5zM0.4 168.4h1.5v1.5h-1.5zM93.2 168.4h1.5v1.5h-1.5zM130.0 168.4h1.5v1.5h-1.5zM163.6 166.8h1.5v1.5h-1.5zM13.2 171.6h1.5v1.5h-1.5zM19.6 170.0h1.5v1.5h-1.5zM64.4 170.0h1.5v1.5h-1.5zM102.8 170.0h1.5v1.5h-1.5zM45.2 182.8h1.5v1.5h-1.5zM51.6 182.8h1.5v1.5h-1.5zM70.8 182.8h1.5v1.5h-1.5zM176.4 182.8h1.5v1.5h-1.5zM10.0 187.6h1.5v1.5h-1.5zM38.8 186.0h1.5v1.5h-1.5zM75.6 186.0h1.5v1.5h-1.5zM154.0 187.6h1.5v1.5h-1.5zM157.2 186.0h1.5v1.5h-1.5zM8.4 190.8h1.5v1.5h-1.5zM96.4 189.2h1.5v1.5h-1.5z"/><path fill="#f5fcf0" d="M70.8 2.0h1.5v1.5h-1.5zM93.2 0.4h1.5v1.5h-1.5zM126.8 0.4h1.5v1.5h-1.5zM146.0 0.4h1.5v1.5h-1.5zM166.8 0.4h1.5v1.5h-1.5zM176.4 2.0h1.5v1.5h-1.5zM181.2 2.0h1.5v1.5h-1.5zM38.8 5.2h1.5v1.5h-1.5zM61.2 3.6h1.5v1.5h-1.5zM80.4 5.2h1.5v1.5h-1.5zM91.6 3.6h1.5v1.5h-1.5zM99.6 3.6h1.5v1.5h-1.5zM104.4 3.6h1.5v1.5h-1.5zM147.6 3.6h1.5v1.5h-1.5zM189.2 5.2h1.5v1.5h-1.5zM16.4 8.4h1.5v1.5h-1.5zM42.0 6.8h1.5v1.5h-1.5zM96.4 6.8h1.5v1.5h-1.5zM118.8 8.4h1.5v1.5h-1.5zM134.8 6.8h1.5v1.5h-1.5zM141.2 6.8h1.5v1.5h-1.5zM157.2 6.8h1.5v1.5h-1.5zM163.6 6.8h1.5v1.5h-1.5zM170.0 8.4h1.5v1.5h-1.5zM174.8 6.8h1.5v1.5h-1.5zM179.6 8.4h1.5v1.5h-1.5zM182.8 6.8h1.5v1.5h-1.5zM186.0 6.8h1.5v1.5h-1.5zM45.2 11.6h1.5v1.5h-1.5zM99.6 11.6h1.5v1.5h-1.5zM144.4 10.0h1.5v1.5h-1.5zM179.6 10.0h1.5v1.5h-1.5zM5.2 13.2h1.5v1.5h-1.5zM6.8 13.2h1.5v1.5h-1.5zM16.4 13.2h1.5v1.5h-1.5zM53.2 14.8h1.5v1.5h-1.5zM91.6 13.2h1.5v1.5h-1.5zM93.2 13.2h1.5v1.5h-1.5zM96.4 14.8h1.5v1.5h-1.5zM130.0 13.2h1.5v1.5h-1.5zM35.6 18.0h1.5v1.5h-1.5zM83.6 16.4h1.5v1.5h-1.5zM125.2 16.4h1.5v1.5h-1.5zM74.0 19.6h1.5v1.5h-1.5zM131.6 19.6h1.5v1.5h-1.5zM160.4 19.6h1.5v1.5h-1.5zM67.6 24.4h1.5v1.5h-1.5zM104.4 22.8h1.5v1.5h-1.5zM112.4 22.8h1.5v1.5h-1.5zM163.6 24.4h1.5v1.5h-1.5zM6.8 27.6h1.5v1.5h-1.5zM10.0 26.0h1.5v1.5h-1.5zM26.0 27.6h1.5v1.5h-1.5zM37.2 26.0h1.5v1.5h-1.5zM59.6 26.0h1.5v1.5h-1.5zM88.4 26.0h1.5v1.5h-1.5zM109.2 27.6h1.5v1.5h-1.5zM134.8 26.0h1.5v1.5h-1.5zM176.4 26.0h1.5v1.5h-1.5zM10.0 29.2h1.5v1.5h-1.5zM75.6 29.2h1.5v1.5h-1.5zM86.8 29.2h1.5v1.5h-1.5zM125.2 29.2h1.5v1.5h-1.5zM165.2 29.2h1.5v1.5h-1.5zM26.0 32.4h1.5v1.5h-1.5zM62.8 32.4h1.5v1.5h-1.5zM78.8 32.4h1.5v1.5h-1.5zM83.6 32.4h1.5v1.5h-1.5zM99.6 34.0h1.5v1.5h-1.5zM147.6 34.0h1.5v1.5h-1.5zM166.8 34.0h1.5v1.5h-1.5zM26.0 35.6h1.5v1.5h-1.5zM19.6 38.8h1.5v1.5h-1.5zM50.0 40.4h1.5v1.5h-1.5zM56.4 38.8h1.5v1.5h-1.5zM109.2 38.8h1.5v1.5h-1.5zM134.8 38.8h1.5v1.5h-1.5zM154.0 40.4h1.5v1.5h-1.5zM40.4 42.0h1.5v1.5h-1.5zM43.6 42.0h1.5v1.5h-1.5zM128.4 42.0h1.5v1.5h-1.5zM147.6 42.0h1.5v1.5h-1.5zM179.6 42.0h1.5v1.5h-1.5zM6.8 45.2h1.5v1.5h-1.5zM19.6 45.2h1.5v1.5h-1.5zM29.2 45.2h1.5v1.5h-1.5zM83.6 45.2h1.5v1.5h-1.5zM109.2 45.2h1.5v1.5h-1.5zM115.6 45.2h1.5v1.5h-1.5zM118.8 45.2h1.5v1.5h-1.5zM131.6 45.2h1.5v1.5h-1.5zM0.4 48.4h1.5v1.5h-1.5zM5.2 48.4h1.5v1.5h-1.5zM58.0 48.4h1.5v1.5h-1.5zM82.0 48.4h1.5v1.5h-1.5zM93.2 48.4h1.5v1.5h-1.5zM112.4 48.4h1.5v1.5h-1.5zM125.2 48.4h1.5v1.5h-1.5zM130.0 48.4h1.5v1.5h-1.5zM134.8 48.4h1.5v1.5h-1.5zM152.4 50.0h1.5v1.5h-1.5zM158.8 48.4h1.5v1.5h-1.5zM170.0 48.4h1.5v1.5h-1.5zM187.6 50.0h1.5v1.5h-1.5zM5.2 51.6h1.5v1.5h-1.5zM10.0 53.2h1.5v1.5h-1.5zM24.4 51.6h1.5v1.5h-1.5zM106.0 53.2h1.5v1.5h-1.5zM115.6 51.6h1.5v1.5h-1.5zM13.2 54.8h1.5v1.5h-1.5zM51.6 54.8h1.5v1.5h-1.5zM58.0 54.8h1.5v1.5h-1.5zM61.2 56.4h1.5v1.5h-1.5zM125.2 54.8h1.5v1.5h-1.5zM144.4 54.8h1.5v1.5h-1.5zM184.4 56.4h1.5v1.5h-1.5zM18.0 58.0h1.5v1.5h-1.5zM35.6 58.0h1.5v1.5h-1.5zM43.6 58.0h1.5v1.5h-1.5zM45.2 58.0h1.5v1.5h-1.5zM50.0 58.0h1.5v1.5h-1.5zM58.0 58.0h1.5v1.5h-1.5zM94.8 58.0h1.5v1.5h-1.5zM150.8 58.0h1.5v1.5h-1.5zM18.0 61.2h1.5v1.5h-1.5zM38.8 61.2h1.5v1.5h-1.5zM61.2 62.8h1.5v1.5h-1.5zM138.0 61.2h1.5v1.5h-1.5zM166.8 61.2h1.5v1.5h-1.5zM6.8 64.4h1.5v1.5h-1.5zM38.8 64.4h1.5v1.5h-1.5zM94.8 64.4h1.5v1.5h-1.5zM106.0 64.4h1.5v1.5h-1.5zM115.6 66.0h1.5v1.5h-1.5zM138.0 66.0h1.5v1.5h-1.5zM184.4 66.0h1.5v1.5h-1.5zM186.0 66.0h1.5v1.5h-1.5zM19.6 67.6h1.5v1.5h-1.5zM48.4 67.6h1.5v1.5h-1.5zM99.6 67.6h1.5v1.5h-1.5zM125.2 69.2h1.5v1.5h-1.5zM133.2 69.2h1.5v1.5h-1.5zM6.8 70.8h1.5v1.5h-1.5zM48.4 72.4h1.5v1.5h-1.5zM54.8 72.4h1.5v1.5h-1.5zM80.4 70.8h1.5v1.5h-1.5zM93.2 70.8h1.5v1.5h-1.5zM99.6 72.4h1.5v1.5h-1.5zM141.2 70.8h1.5v1.5h-1.5zM165.2 70.8h1.5v1.5h-1.5zM18.0 74.0h1.5v1.5h-1.5zM80.4 74.0h1.5v1.5h-1.5zM128.4 75.6h1.5v1.5h-1.5zM149.2 74.0h1.5v1.5h-1.5zM2.0 78.8h1.5v1.5h-1.5zM6.8 77.2h1.5v1.5h-1.5zM10.0 80.4h1.5v1.5h-1.5zM18.0 82.0h1.5v1.5h-1.5zM19.6 80.4h1.5v1.5h-1.5zM85.2 80.4h1.5v1.5h-1.5zM101.2 80.4h1.5v1.5h-1.5zM166.8 82.0h1.5v1.5h-1.5zM62.8 83.6h1.5v1.5h-1.5zM64.4 83.6h1.5v1.5h-1.5zM67.6 83.6h1.5v1.5h-1.5zM83.6 85.2h1.5v1.5h-1.5zM162.0 83.6h1.5v1.5h-1.5zM170.0 83.6h1.5v1.5h-1.5zM178.0 83.6h1.5v1.5h-1.5zM190.8 83.6h1.5v1.5h-1.5zM18.0 86.8h1.5v1.5h-1.5zM50.0 86.8h1.5v1.5h-1.5zM82.0 86.8h1.5v1.5h-1.5zM85.2 86.8h1.5v1.5h-1.5zM187.6 88.4h1.5v1.5h-1.5zM10.0 90.0h1.5v1.5h-1.5zM64.4 91.6h1.5v1.5h-1.5zM93.2 90.0h1.5v1.5h-1.5zM123.6 90.0h1.5v1.5h-1.5zM130.0 90.0h1.5v1.5h-1.5zM144.4 90.0h1.5v1.5h-1.5zM3.6 93.2h1.5v1.5h-1.5zM19.6 93.2h1.5v1.5h-1.5zM38.8 93.2h1.5v1.5h-1.5zM45.2 93.2h1.5v1.5h-1.5zM48.4 93.2h1.5v1.5h-1.5zM122.0 93.2h1.5v1.5h-1.5zM0.4 96.4h1.5v1.5h-1.5zM61.2 96.4h1.5v1.5h-1.5zM82.0 96.4h1.5v1.5h-1.5zM173.2 96.4h1.5v1.5h-1.5zM184.4 98.0h1.5v1.5h-1.5zM5.2 99.6h1.5v1.5h-1.5zM19.6 99.6h1.5v1.5h-1.5zM66.0 99.6h1.5v1.5h-1.5zM101.2 99.6h1.5v1.5h-1.5zM154.0 99.6h1.5v1.5h-1.5zM51.6 102.8h1.5v1.5h-1.5zM67.6 104.4h1.5v1.5h-1.5zM128.4 102.8h1.5v1.5h-1.5zM147.6 102.8h1.5v1.5h-1.5zM0.4 106.0h1.5v1.5h-1.5zM32.4 106.0h1.5v1.5h-1.5zM37.2 106.0h1.5v1.5h-1.5zM102.8 106.0h1.5v1.5h-1.5zM138.0 107.6h1.5v1.5h-1.5zM150.8 106.0h1.5v1.5h-1.5zM5.2 110.8h1.5v1.5h-1.5zM13.2 110.8h1.5v1.5h-1.5zM19.6 109.2h1.5v1.5h-1.5zM67.6 109.2h1.5v1.5h-1.5zM117.2 109.2h1.5v1.5h-1.5zM128.4 109.2h1.5v1.5h-1.5zM138.0 109.2h1.5v1.5h-1.5zM144.4 112.4h1.5v1.5h-1.5zM0.4 115.6h1.5v1.5h-1.5zM24.4 115.6h1.5v1.5h-1.5zM26.0 115.6h1.5v1.5h-1.5zM40.4 115.6h1.5v1.5h-1.5zM80.4 115.6h1.5v1.5h-1.5zM98.0 115.6h1.5v1.5h-1.5zM102.8 120.4h1.5v1.5h-1.5zM107.6 120.4h1.5v1.5h-1.5zM122.0 118.8h1.5v1.5h-1.5zM147.6 118.8h1.5v1.5h-1.5zM72.4 123.6h1.5v1.5h-1.5zM122.0 122.0h1.5v1.5h-1.5zM158.8 122.0h1.5v1.5h-1.5zM176.4 122.0h1.5v1.5h-1.5zM190.8 122.0h1.5v1.5h-1.5zM3.6 125.2h1.5v1.5h-1.5zM29.2 126.8h1.5v1.5h-1.5zM62.8 125.2h1.5v1.5h-1.5zM85.2 125.2h1.5v1.5h-1.5zM114.0 125.2h1.5v1.5h-1.5zM24.4 128.4h1.5v1.5h-1.5zM35.6 128.4h1.5v1.5h-1.5zM104.4 128.4h1.5v1.5h-1.5zM114.0 128.4h1.5v1.5h-1.5zM118.8 128.4h1.5v1.5h-1.5zM128.4 128.4h1.5v1.5h-1.5zM165.2 130.0h1.5v1.5h-1.5zM179.6 128.4h1.5v1.5h-1.5zM29.2 131.6h1.5v1.5h-1.5zM53.2 131.6h1.5v1.5h-1.5zM61.2 131.6h1.5v1.5h-1.5zM114.0 131.6h1.5v1.5h-1.5zM125.2 131.6h1.5v1.5h-1.5zM18.0 134.8h1.5v1.5h-1.5zM19.6 134.8h1.5v1.5h-1.5zM22.8 136.4h1.5v1.5h-1.5zM70.8 134.8h1.5v1.5h-1.5zM86.8 136.4h1.5v1.5h-1.5zM117.2 134.8h1.5v1.5h-1.5zM158.8 136.4h1.5v1.5h-1.5zM19.6 139.6h1.5v1.5h-1.5zM30.8 138.0h1.5v1.5h-1.5zM38.8 139.6h1.5v1.5h-1.5zM45.2 139.6h1.5v1.5h-1.5zM91.6 138.0h1.5v1.5h-1.5zM98.0 138.0h1.5v1.5h-1.5zM144.4 138.0h1.5v1.5h-1.5zM168.4 139.6h1.5v1.5h-1.5zM179.6 138.0h1.5v1.5h-1.5zM190.8 139.6h1.5v1.5h-1.5zM24.4 142.8h1.5v1.5h-1.5zM61.2 141.2h1.5v1.5h-1.5zM70.8 142.8h1.5v1.5h-1.5zM93.2 141.2h1.5v1.5h-1.5zM98.0 142.8h1.5v1.5h-1.5zM101.2 141.2h1.5v1.5h-1.5zM109.2 141.2h1.5v1.5h-1.5zM128.4 141.2h1.5v1.5h-1.5zM147.6 142.8h1.5v1.5h-1.5zM163.6 141.2h1.5v1.5h-1.5zM173.2 141.2h1.5v1.5h-1.5zM184.4 141.2h1.5v1.5h-1.5zM26.0 146.0h1.5v1.5h-1.5zM64.4 144.4h1.5v1.5h-1.5zM86.8 144.4h1.5v1.5h-1.5zM112.4 146.0h1.5v1.5h-1.5zM6.8 147.6h1.5v1.5h-1.5zM43.6 147.6h1.5v1.5h-1.5zM62.8 147.6h1.5v1.5h-1.5zM130.0 147.6h1.5v1.5h-1.5zM154.0 147.6h1.5v1.5h-1.5zM173.2 149.2h1.5v1.5h-1.5zM83.6 150.8h1.5v1.5h-1.5zM91.6 150.8h1.5v1.5h-1.5zM106.0 152.4h1.5v1.5h-1.5zM176.4 152.4h1.5v1.5h-1.5zM187.6 152.4h1.5v1.5h-1.5zM19.6 154.0h1.5v1.5h-1.5zM61.2 154.0h1.5v1.5h-1.5zM128.4 154.0h1.5v1.5h-1.5zM6.8 157.2h1.5v1.5h-1.5zM77.2 157.2h1.5v1.5h-1.5zM139.6 157.2h1.5v1.5h-1.5zM174.8 157.2h1.5v1.5h-1.5zM70.8 160.4h1.5v1.5h-1.5zM131.6 160.4h1.5v1.5h-1.5zM141.2 160.4h1.5v1.5h-1.5zM149.2 162.0h1.5v1.5h-1.5zM80.4 165.2h1.5v1.5h-1.5zM86.8 163.6h1.5v1.5h-1.5zM115.6 163.6h1.5v1.5h-1.5zM118.8 165.2h1.5v1.5h-1.5zM173.2 165.2h1.5v1.5h-1.5zM176.4 165.2h1.5v1.5h-1.5zM10.0 168.4h1.5v1.5h-1.5zM21.2 166.8h1.5v1.5h-1.5zM26.0 166.8h1.5v1.5h-1.5zM38.8 168.4h1.5v1.5h-1.5zM70.8 166.8h1.5v1.5h-1.5zM109.2 166.8h1.5v1.5h-1.5zM157.2 166.8h1.5v1.5h-1.5zM35.6 170.0h1.5v1.5h-1.5zM106.0 171.6h1.5v1.5h-1.5zM163.6 170.0h1.5v1.5h-1.5zM3.6 174.8h1.5v1.5h-1.5zM66.0 173.2h1.5v1.5h-1.5zM83.6 173.2h1.5v1.5h-1.5zM114.0 173.2h1.5v1.5h-1.5zM131.6 174.8h1.5v1.5h-1.5zM158.8 173.2h1.5v1.5h-1.5zM62.8 178.0h1.5v1.5h-1.5zM131.6 176.4h1.5v1.5h-1.5zM171.6 176.4h1.5v1.5h-1.5zM174.8 176.4h1.5v1.5h-1.5zM3.6 179.6h1.5v1.5h-1.5zM6.8 179.6h1.5v1.5h-1.5zM74.0 179.6h1.5v1.5h-1.5zM83.6 179.6h1.5v1.5h-1.5zM130.0 179.6h1.5v1.5h-1.5zM154.0 179.6h1.5v1.5h-1.5zM19.6 182.8h1.5v1.5h-1.5zM24.4 182.8h1.5v1.5h-1.5zM82.0 182.8h1.5v1.5h-1.5zM122.0 184.4h1.5v1.5h-1.5zM160.4 184.4h1.5v1.5h-1.5zM170.0 182.8h1.5v1.5h-1.5zM5.2 187.6h1.5v1.5h-1.5zM42.0 187.6h1.5v1.5h-1.5zM128.4 186.0h1.5v1.5h-1.5zM131.6 186.0h1.5v1.5h-1.5zM141.2 186.0h1.5v1.5h-1.5zM16.4 189.2h1.5v1.5h-1.5zM78.8 189.2h1.5v1.5h-1.5zM139.6 189.2h1.5v1.5h-1.5zM170.0 189.2h1.5v1.5h-1.5z"/><path fill="#e0e6f3" d="M86.8 2.0h1.5v1.5h-1.5zM136.4 2.0h1.5v1.5h-1.5zM170.0 0.4h1.5v1.5h-1.5zM186.0 0.4h1.5v1.5h-1.5zM48.4 3.6h1.5v1.5h-1.5zM112.4 3.6h1.5v1.5h-1.5zM5.2 6.8h1.5v1.5h-1.5zM45.2 6.8h1.5v1.5h-1.5zM144.4 6.8h1.5v1.5h-1.5zM72.4 10.0h1.5v1.5h-1.5zM2.0 13.2h1.5v1.5h-1.5zM173.2 13.2h1.5v1.5h-1.5zM58.0 16.4h1.5v1.5h-1.5zM70.8 18.0h1.5v1.5h-1.5zM109.2 16.4h1.5v1.5h-1.5zM168.4 16.4h1.5v1.5h-1.5zM173.2 21.2h1.5v1.5h-1.5zM83.6 22.8h1.5v1.5h-1.5zM96.4 26.0h1.5v1.5h-1.5zM144.4 26.0h1.5v1.5h-1.5zM163.6 27.6h1.5v1.5h-1.5zM22.8 29.2h1.5v1.5h-1.5zM78.8 29.2h1.5v1.5h-1.5zM110.8 29.2h1.5v1.5h-1.5zM70.8 34.0h1.5v1.5h-1.5zM155.6 34.0h1.5v1.5h-1.5zM35.6 35.6h1.5v1.5h-1.5zM83.6 35.6h1.5v1.5h-1.5zM115.6 35.6h1.5v1.5h-1.5zM128.4 35.6h1.5v1.5h-1.5zM138.0 35.6h1.5v1.5h-1.5zM144.4 35.6h1.5v1.5h-1.5zM152.4 37.2h1.5v1.5h-1.5zM173.2 38.8h1.5v1.5h-1.5zM72.4 42.0h1.5v1.5h-1.5zM90.0 42.0h1.5v1.5h-1.5zM141.2 43.6h1.5v1.5h-1.5zM184.4 42.0h1.5v1.5h-1.5zM70.8 48.4h1.5v1.5h-1.5zM99.6 51.6h1.5v1.5h-1.5zM35.6 56.4h1.5v1.5h-1.5zM67.6 54.8h1.5v1.5h-1.5zM147.6 54.8h1.5v1.5h-1.5zM22.8 58.0h1.5v1.5h-1.5zM102.8 58.0h1.5v1.5h-1.5zM107.6 58.0h1.5v1.5h-1.5zM147.6 64.4h1.5v1.5h-1.5zM29.2 67.6h1.5v1.5h-1.5zM54.8 69.2h1.5v1.5h-1.5zM134.8 67.6h1.5v1.5h-1.5zM176.4 67.6h1.5v1.5h-1.5zM138.0 75.6h1.5v1.5h-1.5zM90.0 77.2h1.5v1.5h-1.5zM149.2 77.2h1.5v1.5h-1.5zM176.4 77.2h1.5v1.5h-1.5zM179.6 78.8h1.5v1.5h-1.5zM186.0 77.2h1.5v1.5h-1.5zM109.2 80.4h1.5v1.5h-1.5zM112.4 80.4h1.5v1.5h-1.5zM131.6 80.4h1.5v1.5h-1.5zM45.2 85.2h1.5v1.5h-1.5zM90.0 83.6h1.5v1.5h-1.5zM184.4 83.6h1.5v1.5h-1.5zM29.2 86.8h1.5v1.5h-1.5zM35.6 88.4h1.5v1.5h-1.5zM67.6 88.4h1.5v1.5h-1.5zM30.8 90.0h1.5v1.5h-1.5zM179.6 90.0h1.5v1.5h-1.5zM85.2 94.8h1.5v1.5h-1.5zM32.4 98.0h1.5v1.5h-1.5zM50.0 99.6h1.5v1.5h-1.5zM125.2 99.6h1.5v1.5h-1.5zM186.0 99.6h1.5v1.5h-1.5zM107.6 106.0h1.5v1.5h-1.5zM154.0 107.6h1.5v1.5h-1.5zM184.4 106.0h1.5v1.5h-1.5zM187.6 106.0h1.5v1.5h-1.5zM190.8 106.0h1.5v1.5h-1.5zM125.2 112.4h1.5v1.5h-1.5zM109.2 115.6h1.5v1.5h-1.5zM139.6 115.6h1.5v1.5h-1.5zM182.8 115.6h1.5v1.5h-1.5zM35.6 118.8h1.5v1.5h-1.5zM13.2 122.0h1.5v1.5h-1.5zM128.4 122.0h1.5v1.5h-1.5zM166.8 122.0h1.5v1.5h-1.5zM120.4 125.2h1.5v1.5h-1.5zM139.6 125.2h1.5v1.5h-1.5zM166.8 126.8h1.5v1.5h-1.5zM179.6 125.2h1.5v1.5h-1.5zM85.2 128.4h1.5v1.5h-1.5zM99.6 128.4h1.5v1.5h-1.5zM93.2 131.6h1.5v1.5h-1.5zM117.2 131.6h1.5v1.5h-1.5zM128.4 131.6h1.5v1.5h-1.5zM114.0 134.8h1.5v1.5h-1.5zM166.8 134.8h1.5v1.5h-1.5zM85.2 138.0h1.5v1.5h-1.5zM106.0 139.6h1.5v1.5h-1.5zM38.8 141.2h1.5v1.5h-1.5zM53.2 141.2h1.5v1.5h-1.5zM189.2 142.8h1.5v1.5h-1.5zM3.6 146.0h1.5v1.5h-1.5zM35.6 146.0h1.5v1.5h-1.5zM98.0 144.4h1.5v1.5h-1.5zM178.0 144.4h1.5v1.5h-1.5zM182.8 144.4h1.5v1.5h-1.5zM3.6 147.6h1.5v1.5h-1.5zM56.4 149.2h1.5v1.5h-1.5zM125.2 147.6h1.5v1.5h-1.5zM150.8 149.2h1.5v1.5h-1.5zM22.8 150.8h1.5v1.5h-1.5zM109.2 154.0h1.5v1.5h-1.5zM120.4 155.6h1.5v1.5h-1.5zM37.2 157.2h1.5v1.5h-1.5zM115.6 157.2h1.5v1.5h-1.5zM150.8 158.8h1.5v1.5h-1.5zM157.2 157.2h1.5v1.5h-1.5zM166.8 157.2h1.5v1.5h-1.5zM16.4 162.0h1.5v1.5h-1.5zM182.8 162.0h1.5v1.5h-1.5zM3.6 165.2h1.5v1.5h-1.5zM66.0 165.2h1.5v1.5h-1.5zM3.6 166.8h1.5v1.5h-1.5zM22.8 168.4h1.5v1.5h-1.5zM67.6 168.4h1.5v1.5h-1.5zM86.8 170.0h1.5v1.5h-1.5zM160.4 171.6h1.5v1.5h-1.5zM154.0 174.8h1.5v1.5h-1.5zM102.8 176.4h1.5v1.5h-1.5zM147.6 176.4h1.5v1.5h-1.5zM21.2 179.6h1.5v1.5h-1.5zM115.6 181.2h1.5v1.5h-1.5zM120.4 179.6h1.5v1.5h-1.5zM160.4 179.6h1.5v1.5h-1.5zM163.6 179.6h1.5v1.5h-1.5zM189.2 179.6h1.5v1.5h-1.5zM30.8 182.8h1.5v1.5h-1.5zM134.8 182.8h1.5v1.5h-1.5zM186.0 186.0h1.5v1.5h-1.5zM154.0 189.2h1.5v1.5h-1.5z"/><path fill="#e2eae3" d="M69.2 5.2h1.5v1.5h-1.5zM74.0 3.6h1.5v1.5h-1.5zM6.8 6.8h1.5v1.5h-1.5zM112.4 6.8h1.5v1.5h-1.5zM139.6 6.8h1.5v1.5h-1.5zM166.8 6.8h1.5v1.5h-1.5zM102.8 10.0h1.5v1.5h-1.5zM117.2 11.6h1.5v1.5h-1.5zM141.2 10.0h1.5v1.5h-1.5zM178.0 14.8h1.5v1.5h-1.5zM182.8 13.2h1.5v1.5h-1.5zM139.6 16.4h1.5v1.5h-1.5zM160.4 16.4h1.5v1.5h-1.5zM93.2 19.6h1.5v1.5h-1.5zM70.8 24.4h1.5v1.5h-1.5zM174.8 22.8h1.5v1.5h-1.5zM184.4 22.8h1.5v1.5h-1.5zM106.0 27.6h1.5v1.5h-1.5zM170.0 26.0h1.5v1.5h-1.5zM26.0 30.8h1.5v1.5h-1.5zM45.2 30.8h1.5v1.5h-1.5zM173.2 29.2h1.5v1.5h-1.5zM16.4 32.4h1.5v1.5h-1.5zM51.6 32.4h1.5v1.5h-1.5zM128.4 32.4h1.5v1.5h-1.5zM99.6 35.6h1.5v1.5h-1.5zM80.4 40.4h1.5v1.5h-1.5zM35.6 43.6h1.5v1.5h-1.5zM54.8 42.0h1.5v1.5h-1.5zM26.0 48.4h1.5v1.5h-1.5zM90.0 53.2h1.5v1.5h-1.5zM42.0 54.8h1.5v1.5h-1.5zM173.2 54.8h1.5v1.5h-1.5zM96.4 58.0h1.5v1.5h-1.5zM141.2 58.0h1.5v1.5h-1.5zM43.6 61.2h1.5v1.5h-1.5zM86.8 64.4h1.5v1.5h-1.5zM123.6 69.2h1.5v1.5h-1.5zM104.4 72.4h1.5v1.5h-1.5zM19.6 75.6h1.5v1.5h-1.5zM99.6 74.0h1.5v1.5h-1.5zM176.4 74.0h1.5v1.5h-1.5zM147.6 82.0h1.5v1.5h-1.5zM74.0 83.6h1.5v1.5h-1.5zM146.0 86.8h1.5v1.5h-1.5zM77.2 90.0h1.5v1.5h-1.5zM182.8 90.0h1.5v1.5h-1.5zM190.8 90.0h1.5v1.5h-1.5zM64.4 94.8h1.5v1.5h-1.5zM29.2 96.4h1.5v1.5h-1.5zM67.6 96.4h1.5v1.5h-1.5zM90.0 96.4h1.5v1.5h-1.5zM134.8 96.4h1.5v1.5h-1.5zM176.4 96.4h1.5v1.5h-1.5zM186.0 96.4h1.5v1.5h-1.5zM165.2 99.6h1.5v1.5h-1.5zM29.2 104.4h1.5v1.5h-1.5zM32.4 104.4h1.5v1.5h-1.5zM157.2 102.8h1.5v1.5h-1.5zM45.2 107.6h1.5v1.5h-1.5zM50.0 106.0h1.5v1.5h-1.5zM117.2 107.6h1.5v1.5h-1.5zM32.4 110.8h1.5v1.5h-1.5zM45.2 110.8h1.5v1.5h-1.5zM187.6 109.2h1.5v1.5h-1.5zM21.2 112.4h1.5v1.5h-1.5zM90.0 112.4h1.5v1.5h-1.5zM118.8 114.0h1.5v1.5h-1.5zM187.6 112.4h1.5v1.5h-1.5zM8.4 115.6h1.5v1.5h-1.5zM11.6 115.6h1.5v1.5h-1.5zM186.0 115.6h1.5v1.5h-1.5zM6.8 118.8h1.5v1.5h-1.5zM22.8 118.8h1.5v1.5h-1.5zM64.4 118.8h1.5v1.5h-1.5zM125.2 118.8h1.5v1.5h-1.5zM22.8 123.6h1.5v1.5h-1.5zM107.6 122.0h1.5v1.5h-1.5zM118.8 122.0h1.5v1.5h-1.5zM163.6 122.0h1.5v1.5h-1.5zM170.0 122.0h1.5v1.5h-1.5zM173.2 122.0h1.5v1.5h-1.5zM182.8 122.0h1.5v1.5h-1.5zM51.6 125.2h1.5v1.5h-1.5zM56.4 126.8h1.5v1.5h-1.5zM82.0 125.2h1.5v1.5h-1.5zM101.2 125.2h1.5v1.5h-1.5zM123.6 126.8h1.5v1.5h-1.5zM131.6 125.2h1.5v1.5h-1.5zM3.6 128.4h1.5v1.5h-1.5zM51.6 128.4h1.5v1.5h-1.5zM96.4 128.4h1.5v1.5h-1.5zM11.6 131.6h1.5v1.5h-1.5zM40.4 131.6h1.5v1.5h-1.5zM144.4 131.6h1.5v1.5h-1.5zM10.0 136.4h1.5v1.5h-1.5zM61.2 134.8h1.5v1.5h-1.5zM150.8 134.8h1.5v1.5h-1.5zM154.0 136.4h1.5v1.5h-1.5zM173.2 134.8h1.5v1.5h-1.5zM102.8 139.6h1.5v1.5h-1.5zM109.2 138.0h1.5v1.5h-1.5zM150.8 138.0h1.5v1.5h-1.5zM3.6 141.2h1.5v1.5h-1.5zM13.2 141.2h1.5v1.5h-1.5zM83.6 142.8h1.5v1.5h-1.5zM122.0 141.2h1.5v1.5h-1.5zM51.6 144.4h1.5v1.5h-1.5zM51.6 147.6h1.5v1.5h-1.5zM128.4 150.8h1.5v1.5h-1.5zM131.6 150.8h1.5v1.5h-1.5zM29.2 155.6h1.5v1.5h-1.5zM32.4 154.0h1.5v1.5h-1.5zM64.4 154.0h1.5v1.5h-1.5zM74.0 155.6h1.5v1.5h-1.5zM150.8 154.0h1.5v1.5h-1.5zM29.2 157.2h1.5v1.5h-1.5zM118.8 157.2h1.5v1.5h-1.5zM19.6 160.4h1.5v1.5h-1.5zM86.8 160.4h1.5v1.5h-1.5zM93.2 162.0h1.5v1.5h-1.5zM102.8 160.4h1.5v1.5h-1.5zM179.6 160.4h1.5v1.5h-1.5zM32.4 163.6h1.5v1.5h-1.5zM152.4 165.2h1.5v1.5h-1.5zM158.8 163.6h1.5v1.5h-1.5zM189.2 163.6h1.5v1.5h-1.5zM182.8 168.4h1.5v1.5h-1.5zM93.2 171.6h1.5v1.5h-1.5zM125.2 173.2h1.5v1.5h-1.5zM141.2 174.8h1.5v1.5h-1.5zM8.4 176.4h1.5v1.5h-1.5zM13.2 178.0h1.5v1.5h-1.5zM16.4 176.4h1.5v1.5h-1.5zM54.8 178.0h1.5v1.5h-1.5zM96.4 176.4h1.5v1.5h-1.5zM58.0 181.2h1.5v1.5h-1.5zM182.8 181.2h1.5v1.5h-1.5zM3.6 182.8h1.5v1.5h-1.5zM8.4 186.0h1.5v1.5h-1.5zM37.2 187.6h1.5v1.5h-1.5zM162.0 189.2h1.5v1.5h-1.5z"/></pattern></defs>
<rect x="0" y="0" width="1768" height="1307" fill="url(#grain)"/>
<g id="symbols">
<polygon points="423.50,558.87 427.02,569.12 437.39,569.46 429.19,576.14 432.08,586.60 423.50,580.49 414.92,586.60 417.81,576.14 409.61,569.46 419.98,569.12" fill="#008000"/>
<polygon points="787.60,515.07 791.12,525.32 801.49,525.66 793.29,532.34 796.18,542.80 787.60,536.69 779.02,542.80 781.91,532.34 773.71,525.66 784.08,525.32" fill="#008000"/>
<polygon points="1176.50,692.87 1180.02,703.12 1190.39,703.46 1182.19,710.14 1185.08,720.60 1176.50,714.49 1167.92,720.60 1170.81,710.14 1162.61,703.46 1172.98,703.12" fill="#008000"/>
<polygon points="1592.50,699.23 1596.21,710.04 1607.15,710.40 1598.50,717.45 1601.55,728.48 1592.50,722.03 1583.45,728.48 1586.50,717.45 1577.85,710.40 1588.79,710.04" fill="#008000"/>
<polygon points="407.30,745.70 438.70,745.70 423.00,718.30" fill="#0000ff"/>
<polygon points="772.00,777.80 803.40,777.80 787.70,750.40" fill="#0000ff"/>
<polygon points="1161.00,722.00 1192.40,722.00 1176.70,694.60" fill="#0000ff"/>
<polygon points="1576.70,753.70 1608.10,753.70 1592.40,726.30" fill="#0000ff"/>
<rect x="410.95" y="703.25" width="23.50" height="23.50" fill="#ff0000"/>
<rect x="775.75" y="716.45" width="23.50" height="23.50" fill="#ff0000"/>
<rect x="1164.85" y="703.45" width="23.50" height="23.50" fill="#ff0000"/>
<rect x="1580.45" y="725.25" width="23.50" height="23.50" fill="#ff0000"/>
</g>
<g id="fits" fill="none" stroke-width="4.7">
<line x1="421.5" y1="542.9" x2="1593.1" y2="723.8" stroke="#008000"/>
<line x1="423" y1="745.3" x2="1594.8" y2="735" stroke="#0000ff"/>
<line x1="423" y1="716.2" x2="1593" y2="732.2" stroke="#ff0000"/>
</g>
<g id="axes" stroke="#000" stroke-width="4.5" fill="none">
<line x1="246.5" y1="52.4" x2="1701.0" y2="52.4"/>
<line x1="246.5" y1="1103.5" x2="1701.0" y2="1103.5"/>
<line x1="269.8" y1="50.1" x2="269.8" y2="1125"/>
<line x1="1698.8" y1="50.1" x2="1698.8" y2="1125"/>
<line x1="246.5" y1="183.8" x2="269.8" y2="183.8"/>
<line x1="448.4" y1="1103.5" x2="448.4" y2="1125"/>
<line x1="246.5" y1="315.2" x2="269.8" y2="315.2"/>
<line x1="627.0" y1="1103.5" x2="627.0" y2="1125"/>
<line x1="246.5" y1="446.6" x2="269.8" y2="446.6"/>
<line x1="805.7" y1="1103.5" x2="805.7" y2="1125"/>
<line x1="246.5" y1="577.9" x2="269.8" y2="577.9"/>
<line x1="984.3" y1="1103.5" x2="984.3" y2="1125"/>
<line x1="246.5" y1="709.3" x2="269.8" y2="709.3"/>
<line x1="1162.9" y1="1103.5" x2="1162.9" y2="1125"/>
<line x1="246.5" y1="840.7" x2="269.8" y2="840.7"/>
<line x1="1341.5" y1="1103.5" x2="1341.5" y2="1125"/>
<line x1="246.5" y1="972.1" x2="269.8" y2="972.1"/>
<line x1="1520.2" y1="1103.5" x2="1520.2" y2="1125"/>
</g>
<g id="ylabels">
<text transform="translate(233.00,68.70) scale(0.990,1.045)" font-size="60" text-anchor="end">0.0</text>
<text transform="translate(233.00,199.97) scale(0.990,1.045)" font-size="60" text-anchor="end">-0.5</text>
<text transform="translate(233.00,331.23) scale(0.990,1.045)" font-size="60" text-anchor="end">-1.0</text>
<text transform="translate(233.00,462.50) scale(0.990,1.045)" font-size="60" text-anchor="end">-1.5</text>
<text transform="translate(233.00,593.77) scale(0.990,1.045)" font-size="60" text-anchor="end">-2.0</text>
<text transform="translate(233.00,725.04) scale(0.990,1.045)" font-size="60" text-anchor="end">-2.5</text>
<text transform="translate(233.00,856.30) scale(0.990,1.045)" font-size="60" text-anchor="end">-3.0</text>
<text transform="translate(233.00,987.57) scale(0.990,1.045)" font-size="60" text-anchor="end">-3.5</text>
<text transform="translate(233.00,1118.84) scale(0.990,1.045)" font-size="60" text-anchor="end">-4.0</text>
</g>
<g id="xlabels">
<text transform="translate(268.80,1186.40) scale(0.990,1.045)" font-size="60" text-anchor="middle">3.10</text>
<text transform="translate(447.43,1186.40) scale(0.990,1.045)" font-size="60" text-anchor="middle">3.15</text>
<text transform="translate(626.05,1186.40) scale(0.990,1.045)" font-size="60" text-anchor="middle">3.20</text>
<text transform="translate(804.67,1186.40) scale(0.990,1.045)" font-size="60" text-anchor="middle">3.25</text>
<text transform="translate(983.30,1186.40) scale(0.990,1.045)" font-size="60" text-anchor="middle">3.30</text>
<text transform="translate(1161.92,1186.40) scale(0.990,1.045)" font-size="60" text-anchor="middle">3.35</text>
<text transform="translate(1340.55,1186.40) scale(0.990,1.045)" font-size="60" text-anchor="middle">3.40</text>
<text transform="translate(1519.17,1186.40) scale(0.990,1.045)" font-size="60" text-anchor="middle">3.45</text>
<text transform="translate(1697.80,1186.40) scale(0.990,1.045)" font-size="60" text-anchor="middle">3.50</text>
</g>
<text id="xtitle" x="984" y="1272.5" font-size="69" text-anchor="middle">(1000/T) (K<tspan font-size="40" dy="-38.2" dx="1.3">-1</tspan><tspan font-size="69" dy="38.2" dx="1">)</tspan></text>
<text transform="translate(73.20,712.00) rotate(-90)" font-size="70" text-anchor="start" id="ytitle">ln X</text>
<text transform="translate(93.70,582.50) rotate(-90) scale(1.000,1.050)" font-size="51" text-anchor="start" id="ytitle-sub">CMC</text>
<g id="legend">
<polygon points="1507.30,106.97 1510.84,117.28 1521.28,117.63 1513.03,124.36 1515.94,134.89 1507.30,128.73 1498.66,134.89 1501.57,124.36 1493.32,117.63 1503.76,117.28" fill="#008000"/>
<polygon points="1491.30,196.50 1522.70,196.50 1507.00,169.10" fill="#0000ff"/>
<rect x="1495.20" y="239.00" width="24.00" height="24.00" fill="#ff0000"/>
<text transform="translate(1573.10,138.90) scale(1.000,1.070)" font-size="49" text-anchor="start">P<tspan dx="1.2">1</tspan></text>
<text transform="translate(1573.10,201.50) scale(1.000,1.070)" font-size="49" text-anchor="start">P<tspan dx="1.2">2</tspan></text>
<text transform="translate(1573.10,266.50) scale(1.000,1.070)" font-size="49" text-anchor="start">P<tspan dx="1.2">3</tspan></text>
</g>
</svg></body></html>
